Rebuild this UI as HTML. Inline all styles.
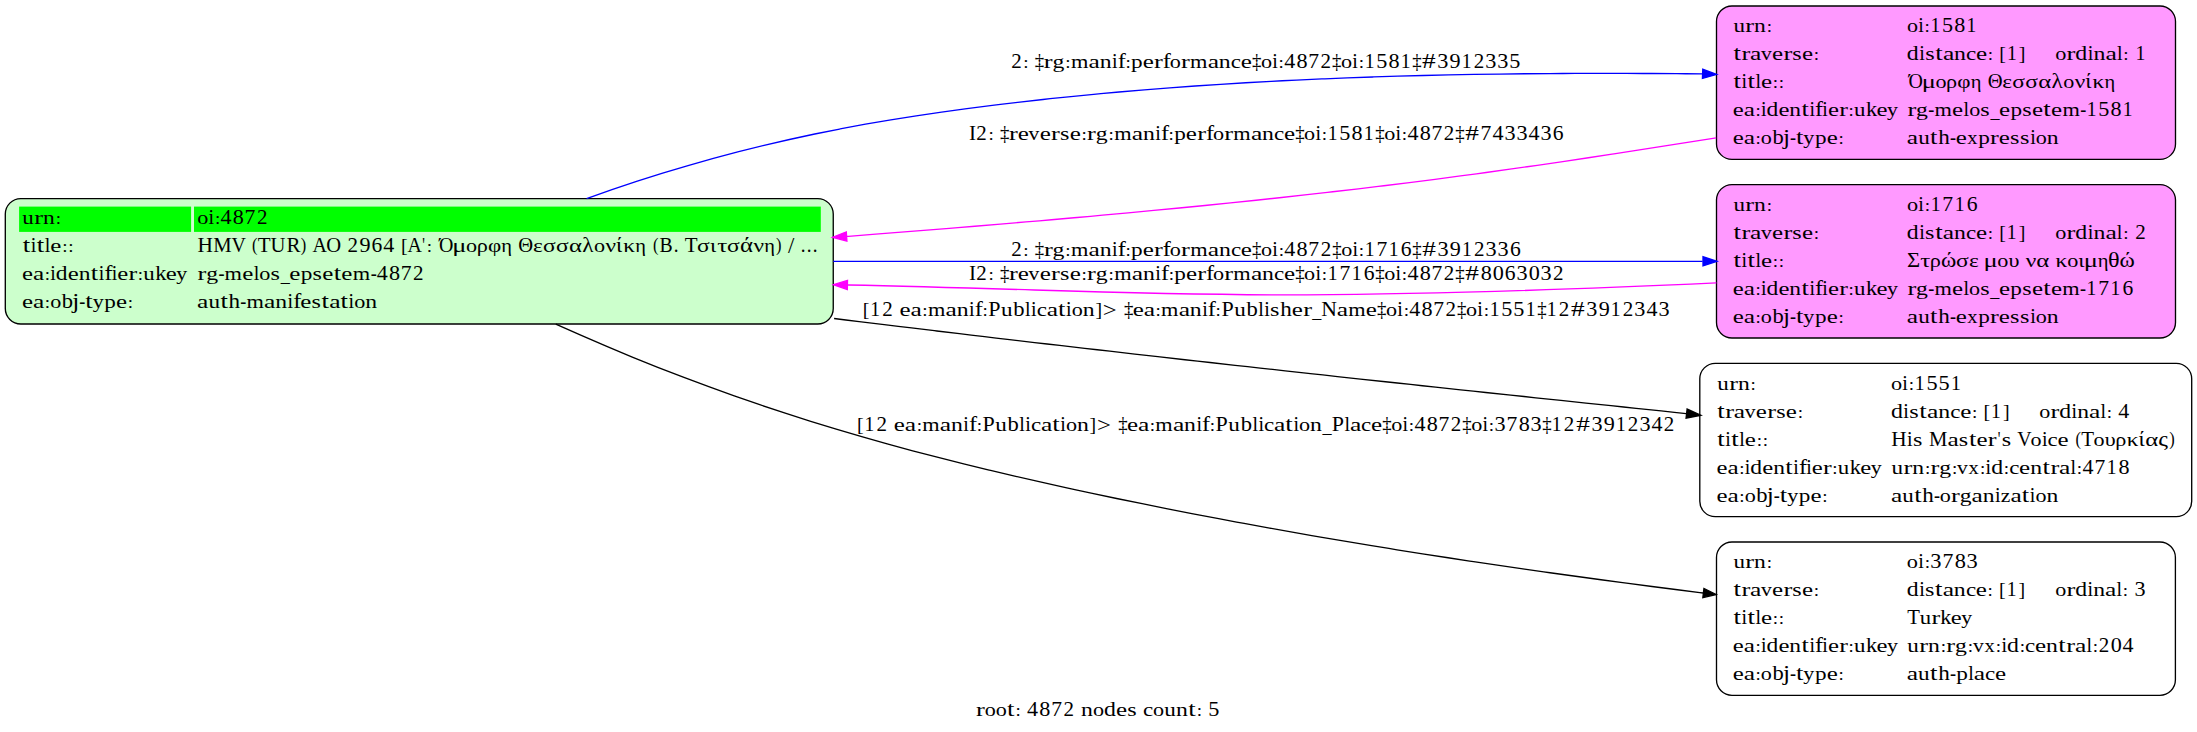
<!DOCTYPE html>
<html><head><meta charset="utf-8"><title>graph</title>
<style>html,body{margin:0;padding:0;background:#fff;}svg{display:block;}text{font-family:"Liberation Serif",serif;font-size:21.0px;fill:#000;white-space:pre;}</style>
</head><body><svg width="2197" height="732" viewBox="0 0 2197 732">
<rect width="2197" height="732" fill="#fff"/>
<rect x="5.30" y="198.60" width="827.95" height="125.40" rx="15.5" ry="15.5" fill="#ccffcc" stroke="#000" stroke-width="1.33"/>
<rect x="1716.50" y="6.00" width="459.00" height="153.40" rx="15.5" ry="15.5" fill="#ff99ff" stroke="#000" stroke-width="1.33"/>
<rect x="1716.50" y="184.60" width="459.00" height="153.40" rx="15.5" ry="15.5" fill="#ff99ff" stroke="#000" stroke-width="1.33"/>
<rect x="1699.80" y="363.33" width="491.90" height="153.34" rx="15.5" ry="15.5" fill="#ffffff" stroke="#000" stroke-width="1.33"/>
<rect x="1716.50" y="542.00" width="458.90" height="153.33" rx="15.5" ry="15.5" fill="#ffffff" stroke="#000" stroke-width="1.33"/>
<rect x="19.10" y="206.60" width="172.00" height="25.30" fill="#00ff00"/>
<rect x="194.00" y="206.60" width="626.80" height="25.30" fill="#00ff00"/>
<path d="M586.60,198.74 C595.05,195.65 603.50,192.65 611.95,189.72 C620.41,186.79 628.86,183.95 637.31,181.18 C645.76,178.41 654.21,175.73 662.66,173.12 C671.12,170.51 679.57,167.97 688.02,165.52 C696.47,163.06 704.92,160.67 713.37,158.36 C721.82,156.05 730.28,153.82 738.73,151.65 C747.18,149.49 755.63,147.39 764.08,145.36 C772.53,143.34 780.98,141.38 789.44,139.49 C797.89,137.60 806.34,135.78 814.79,134.02 C823.24,132.26 831.69,130.57 840.15,128.93 C848.60,127.30 857.05,125.73 865.50,124.22 C873.95,122.71 882.40,121.26 890.85,119.85 C899.31,118.45 907.76,117.11 916.21,115.81 C924.66,114.51 933.11,113.26 941.56,112.05 C950.02,110.85 958.47,109.69 966.92,108.57 C975.37,107.45 983.82,106.37 992.27,105.33 C1000.72,104.29 1009.18,103.28 1017.63,102.30 C1026.08,101.33 1034.53,100.39 1042.98,99.47 C1051.43,98.56 1059.88,97.67 1068.34,96.82 C1076.79,95.96 1085.24,95.13 1093.69,94.33 C1102.14,93.53 1110.59,92.76 1119.05,92.02 C1127.50,91.27 1135.95,90.56 1144.40,89.86 C1152.85,89.17 1161.30,88.51 1169.75,87.87 C1178.21,87.23 1186.66,86.61 1195.11,86.02 C1203.56,85.43 1212.01,84.87 1220.46,84.33 C1228.92,83.79 1237.37,83.27 1245.82,82.77 C1254.27,82.28 1262.72,81.81 1271.17,81.36 C1279.62,80.91 1288.08,80.48 1296.53,80.08 C1304.98,79.67 1313.43,79.29 1321.88,78.93 C1330.33,78.56 1338.78,78.22 1347.24,77.90 C1355.69,77.58 1364.14,77.27 1372.59,76.99 C1381.04,76.71 1389.49,76.44 1397.95,76.20 C1406.40,75.95 1414.85,75.72 1423.30,75.51 C1431.75,75.30 1440.20,75.11 1448.65,74.93 C1457.11,74.76 1465.56,74.60 1474.01,74.45 C1482.46,74.31 1490.91,74.18 1499.36,74.07 C1507.82,73.96 1516.27,73.86 1524.72,73.78 C1533.17,73.69 1541.62,73.62 1550.07,73.57 C1558.52,73.51 1566.98,73.47 1575.43,73.44 C1583.88,73.41 1592.33,73.40 1600.78,73.39 C1609.23,73.39 1617.68,73.39 1626.14,73.41 C1634.59,73.43 1643.04,73.46 1651.49,73.50 C1659.94,73.54 1668.39,73.59 1676.85,73.65 C1685.30,73.71 1693.75,73.78 1702.20,73.86" fill="none" stroke="#0000ff" stroke-width="1.33"/>
<polygon points="1716.70,74.38 1702.43,78.47 1702.77,69.27" fill="#0000ff" stroke="#0000ff" stroke-width="1.33"/>
<path d="M1716.20,137.90 C1707.68,139.24 1699.16,140.58 1690.64,141.92 C1682.11,143.26 1673.59,144.59 1665.07,145.92 C1656.55,147.26 1648.03,148.58 1639.51,149.90 C1630.98,151.22 1622.46,152.53 1613.94,153.84 C1605.42,155.14 1596.90,156.44 1588.38,157.73 C1579.85,159.01 1571.33,160.28 1562.81,161.55 C1554.29,162.81 1545.77,164.06 1537.25,165.29 C1528.73,166.52 1520.20,167.74 1511.68,168.94 C1503.16,170.15 1494.64,171.33 1486.12,172.50 C1477.60,173.67 1469.07,174.83 1460.55,175.96 C1452.03,177.10 1443.51,178.22 1434.99,179.33 C1426.47,180.43 1417.95,181.51 1409.42,182.58 C1400.90,183.65 1392.38,184.71 1383.86,185.74 C1375.34,186.78 1366.82,187.80 1358.29,188.81 C1349.77,189.81 1341.25,190.81 1332.73,191.78 C1324.21,192.76 1315.69,193.72 1307.16,194.67 C1298.64,195.62 1290.12,196.56 1281.60,197.48 C1273.08,198.41 1264.56,199.32 1256.04,200.22 C1247.51,201.11 1238.99,202.00 1230.47,202.88 C1221.95,203.75 1213.43,204.61 1204.91,205.47 C1196.38,206.32 1187.86,207.16 1179.34,207.99 C1170.82,208.82 1162.30,209.64 1153.78,210.45 C1145.25,211.26 1136.73,212.06 1128.21,212.85 C1119.69,213.64 1111.17,214.43 1102.65,215.20 C1094.13,215.97 1085.60,216.74 1077.08,217.50 C1068.56,218.25 1060.04,219.00 1051.52,219.74 C1043.00,220.48 1034.47,221.22 1025.95,221.95 C1017.43,222.67 1008.91,223.39 1000.39,224.11 C991.87,224.82 983.35,225.53 974.82,226.23 C966.30,226.94 957.78,227.63 949.26,228.33 C940.74,229.02 932.22,229.71 923.69,230.39 C915.17,231.07 906.65,231.75 898.13,232.43 C889.61,233.10 881.09,233.77 872.56,234.44 C864.04,235.11 855.52,235.77 847.00,236.43" fill="none" stroke="#ff00ff" stroke-width="1.33"/>
<polygon points="832.60,237.36 846.31,231.87 846.90,241.05" fill="#ff00ff" stroke="#ff00ff" stroke-width="1.33"/>
<path d="M833.30,261.35 C1100.00,261.35 1400.00,261.35 1702.60,261.35" fill="none" stroke="#0000ff" stroke-width="1.33"/>
<polygon points="1716.90,261.35 1703.00,265.95 1703.00,256.75" fill="#0000ff" stroke="#0000ff" stroke-width="1.33"/>
<path d="M1716.40,282.90 C1240.46,304.68 1160.25,291.33 847.80,285.00" fill="none" stroke="#ff00ff" stroke-width="1.33"/>
<polygon points="833.60,284.71 847.49,280.39 847.31,289.59" fill="#ff00ff" stroke="#ff00ff" stroke-width="1.33"/>
<path d="M834.10,318.52 C842.45,319.55 850.81,320.58 859.16,321.60 C867.52,322.63 875.87,323.65 884.22,324.66 C892.58,325.68 900.93,326.69 909.29,327.69 C917.64,328.70 925.99,329.71 934.35,330.71 C942.70,331.71 951.05,332.70 959.41,333.70 C967.76,334.69 976.12,335.68 984.47,336.66 C992.82,337.65 1001.18,338.63 1009.53,339.61 C1017.89,340.59 1026.24,341.57 1034.59,342.54 C1042.95,343.51 1051.30,344.48 1059.66,345.45 C1068.01,346.41 1076.36,347.38 1084.72,348.34 C1093.07,349.30 1101.43,350.25 1109.78,351.21 C1118.13,352.16 1126.49,353.11 1134.84,354.06 C1143.20,355.01 1151.55,355.95 1159.90,356.90 C1168.26,357.84 1176.61,358.78 1184.96,359.72 C1193.32,360.65 1201.67,361.59 1210.03,362.52 C1218.38,363.45 1226.73,364.38 1235.09,365.31 C1243.44,366.23 1251.80,367.16 1260.15,368.08 C1268.50,369.00 1276.86,369.92 1285.21,370.84 C1293.57,371.76 1301.92,372.67 1310.27,373.59 C1318.63,374.50 1326.98,375.41 1335.34,376.32 C1343.69,377.23 1352.04,378.13 1360.40,379.04 C1368.75,379.94 1377.10,380.85 1385.46,381.75 C1393.81,382.65 1402.17,383.55 1410.52,384.44 C1418.87,385.34 1427.23,386.24 1435.58,387.13 C1443.94,388.03 1452.29,388.92 1460.64,389.81 C1469.00,390.70 1477.35,391.59 1485.71,392.48 C1494.06,393.36 1502.41,394.25 1510.77,395.14 C1519.12,396.02 1527.48,396.90 1535.83,397.79 C1544.18,398.67 1552.54,399.55 1560.89,400.43 C1569.25,401.31 1577.60,402.19 1585.95,403.07 C1594.31,403.94 1602.66,404.82 1611.01,405.70 C1619.37,406.57 1627.72,407.45 1636.08,408.32 C1644.43,409.20 1652.78,410.07 1661.14,410.94 C1669.49,411.81 1677.85,412.68 1686.20,413.56" fill="none" stroke="#000000" stroke-width="1.33"/>
<polygon points="1700.80,415.23 1686.07,418.17 1687.12,409.03" fill="#000000" stroke="#000000" stroke-width="1.33"/>
<path d="M555.80,324.03 C564.30,327.90 572.80,331.71 581.29,335.45 C589.79,339.19 598.29,342.87 606.79,346.48 C615.28,350.08 623.78,353.63 632.28,357.11 C640.78,360.58 649.28,364.00 657.77,367.35 C666.27,370.70 674.77,373.99 683.27,377.22 C691.76,380.45 700.26,383.62 708.76,386.73 C717.26,389.83 725.76,392.88 734.25,395.87 C742.75,398.87 751.25,401.80 759.75,404.68 C768.24,407.56 776.74,410.38 785.24,413.14 C793.74,415.91 802.24,418.62 810.73,421.28 C819.23,423.94 827.73,426.55 836.23,429.10 C844.72,431.66 853.22,434.16 861.72,436.62 C870.22,439.07 878.72,441.48 887.21,443.84 C895.71,446.20 904.21,448.51 912.71,450.78 C921.20,453.05 929.70,455.28 938.20,457.46 C946.70,459.65 955.20,461.80 963.69,463.90 C972.19,466.01 980.69,468.09 989.19,470.12 C997.68,472.16 1006.18,474.16 1014.68,476.13 C1023.18,478.11 1031.68,480.05 1040.17,481.96 C1048.67,483.87 1057.17,485.75 1065.67,487.61 C1074.16,489.47 1082.66,491.30 1091.16,493.11 C1099.66,494.92 1108.16,496.71 1116.65,498.48 C1125.15,500.24 1133.65,501.99 1142.15,503.72 C1150.64,505.44 1159.14,507.15 1167.64,508.83 C1176.14,510.51 1184.64,512.18 1193.13,513.82 C1201.63,515.47 1210.13,517.09 1218.63,518.70 C1227.12,520.31 1235.62,521.89 1244.12,523.46 C1252.62,525.03 1261.12,526.58 1269.61,528.11 C1278.11,529.64 1286.61,531.16 1295.11,532.65 C1303.60,534.15 1312.10,535.63 1320.60,537.09 C1329.10,538.55 1337.60,539.99 1346.09,541.42 C1354.59,542.85 1363.09,544.26 1371.59,545.65 C1380.08,547.05 1388.58,548.43 1397.08,549.79 C1405.58,551.15 1414.08,552.50 1422.57,553.83 C1431.07,555.16 1439.57,556.48 1448.07,557.78 C1456.56,559.08 1465.06,560.37 1473.56,561.65 C1482.06,562.92 1490.56,564.18 1499.05,565.42 C1507.55,566.67 1516.05,567.90 1524.55,569.12 C1533.04,570.34 1541.54,571.55 1550.04,572.74 C1558.54,573.93 1567.04,575.11 1575.53,576.28 C1584.03,577.45 1592.53,578.61 1601.03,579.75 C1609.52,580.90 1618.02,582.03 1626.52,583.15 C1635.02,584.28 1643.52,585.39 1652.01,586.49 C1660.51,587.59 1669.01,588.68 1677.51,589.76 C1686.00,590.84 1694.50,591.91 1703.00,592.97" fill="none" stroke="#000000" stroke-width="1.33"/>
<polygon points="1716.10,594.53 1702.85,597.58 1703.94,588.45" fill="#000000" stroke="#000000" stroke-width="1.33"/>
<text transform="translate(22.33 224.00) scale(1.0970 0.9300)">u</text>
<text transform="translate(34.25 224.00) scale(1.2559 0.9300)">r</text>
<text transform="translate(42.98 224.00) scale(1.1252 0.9300)">n</text>
<text transform="translate(55.65 224.04) scale(0.9066 0.8293)">:</text>
<text transform="translate(22.68 252.00) scale(1.2727 1)">t</text>
<text transform="translate(30.76 252.00) scale(0.9524 1)">i</text>
<text transform="translate(36.68 252.00) scale(1.2727 1)">t</text>
<text transform="translate(44.76 252.00) scale(0.9524 0.9600)">l</text>
<text transform="translate(50.36 252.00) scale(1.1875 0.9300)">e</text>
<text transform="translate(62.14 252.04) scale(0.9091 0.8293)">:</text>
<text transform="translate(68.14 252.04) scale(0.9091 0.8293)">:</text>
<text transform="translate(22.12 280.00) scale(1.1764 0.9300)">e</text>
<text transform="translate(33.00 280.00) scale(1.2008 0.9300)">a</text>
<text transform="translate(44.68 280.04) scale(0.9006 0.8293)">:</text>
<text transform="translate(50.25 280.00) scale(0.9435 1)">i</text>
<text transform="translate(55.84 280.00) scale(1.1210 0.9600)">d</text>
<text transform="translate(67.69 280.00) scale(1.1764 0.9300)">e</text>
<text transform="translate(78.66 280.00) scale(1.1177 0.9300)">n</text>
<text transform="translate(90.79 280.00) scale(1.2608 1)">t</text>
<text transform="translate(98.80 280.00) scale(0.9435 1)">i</text>
<text transform="translate(104.40 280.00) scale(1.1431 0.9600)">f</text>
<text transform="translate(111.67 280.00) scale(0.9435 1)">i</text>
<text transform="translate(117.22 280.00) scale(1.1764 0.9300)">e</text>
<text transform="translate(128.44 280.00) scale(1.2475 0.9300)">r</text>
<text transform="translate(137.80 280.04) scale(0.9006 0.8293)">:</text>
<text transform="translate(143.34 280.00) scale(1.0897 0.9300)">u</text>
<text transform="translate(155.23 280.00) scale(1.0631 0.9600)">k</text>
<text transform="translate(165.76 280.00) scale(1.1764 0.9300)">e</text>
<text transform="translate(176.29 280.00) scale(1.0390 0.9300)">y</text>
<text transform="translate(22.11 308.00) scale(1.1859 0.9300)">e</text>
<text transform="translate(33.08 308.00) scale(1.2104 0.9300)">a</text>
<text transform="translate(44.86 308.04) scale(0.9078 0.8293)">:</text>
<text transform="translate(50.17 308.00) scale(1.0541 0.9300)">o</text>
<text transform="translate(61.70 308.00) scale(1.0754 0.9600)">b</text>
<text transform="translate(72.34 308.00) scale(1.2089 1)">j</text>
<text transform="translate(79.27 308.00) scale(0.8624 1)">-</text>
<text transform="translate(85.35 308.00) scale(1.2710 1)">t</text>
<text transform="translate(92.64 308.00) scale(1.0473 0.9300)">y</text>
<text transform="translate(104.36 308.00) scale(1.1037 0.9300)">p</text>
<text transform="translate(115.98 308.00) scale(1.1859 0.9300)">e</text>
<text transform="translate(127.74 308.04) scale(0.9078 0.8293)">:</text>
<text transform="translate(197.21 224.00) scale(1.0579 0.9300)">o</text>
<text transform="translate(208.54 224.00) scale(0.9545 1)">i</text>
<text transform="translate(214.92 224.04) scale(0.9111 0.8293)">:</text>
<text transform="translate(220.54 224.00) scale(1.0523 1)">4</text>
<text transform="translate(232.78 224.00) scale(1.0579 1)">8</text>
<text transform="translate(244.57 224.00) scale(1.0308 1)">7</text>
<text transform="translate(256.88 224.00) scale(1.0022 1)">2</text>
<text transform="translate(197.49 252.00) scale(1.0179 1)">H</text>
<text transform="translate(213.26 252.00) scale(0.9860 1)">M</text>
<text transform="translate(231.52 252.00) scale(0.9492 1)">V</text>
<text transform="translate(251.92 250.91) scale(0.7827 0.9079)">(</text>
<text transform="translate(257.75 252.00) scale(1.0001 1)">T</text>
<text transform="translate(270.51 252.00) scale(0.9828 1)">U</text>
<text transform="translate(286.51 252.00) scale(1.0001 1)">R</text>
<text transform="translate(300.87 250.91) scale(0.7827 0.9079)">)</text>
<text transform="translate(312.52 252.00) scale(0.9492 1)">A</text>
<text transform="translate(326.27 252.00) scale(0.9816 1)">O</text>
<text transform="translate(347.51 252.00) scale(1.0001 1)">2</text>
<text transform="translate(359.49 252.00) scale(1.0541 1)">9</text>
<text transform="translate(371.49 252.00) scale(1.0271 1)">6</text>
<text transform="translate(383.25 252.00) scale(1.0501 1)">4</text>
<text transform="translate(401.10 251.67) scale(0.9474 0.9437)">[</text>
<text transform="translate(407.53 252.00) scale(0.9492 1)">A</text>
<text transform="translate(422.21 252.00) scale(0.7000 1)">&#x27;</text>
<text transform="translate(426.65 252.04) scale(0.9092 0.8293)">:</text>
<text transform="translate(438.98 252.00) scale(0.9501 1)">Ό</text>
<text transform="translate(452.32 252.00) scale(1.2572 0.9300)">μ</text>
<text transform="translate(465.98 252.00) scale(1.0556 0.9300)">ο</text>
<text transform="translate(476.70 252.00) scale(1.0589 0.9300)">ρ</text>
<text transform="translate(487.95 252.00) scale(1.0953 0.9300)">φ</text>
<text transform="translate(501.28 252.00) scale(0.9744 0.9300)">η</text>
<text transform="translate(518.29 252.00) scale(0.9816 1)">Θ</text>
<text transform="translate(532.95 252.00) scale(1.1001 0.9300)">ε</text>
<text transform="translate(542.94 252.00) scale(1.1220 0.9300)">σ</text>
<text transform="translate(555.94 252.00) scale(1.1220 0.9300)">σ</text>
<text transform="translate(568.90 252.00) scale(1.1796 0.9300)">α</text>
<text transform="translate(582.23 252.00) scale(1.1027 0.9600)">λ</text>
<text transform="translate(593.99 252.00) scale(1.0556 0.9300)">ο</text>
<text transform="translate(605.53 252.00) scale(1.1112 0.9300)">ν</text>
<text transform="translate(615.99 252.00) scale(1.0953 1)">ί</text>
<text transform="translate(623.26 252.00) scale(1.1001 0.9300)">κ</text>
<text transform="translate(635.29 252.00) scale(0.9744 0.9300)">η</text>
<text transform="translate(652.95 250.91) scale(0.7827 0.9079)">(</text>
<text transform="translate(659.57 252.00) scale(0.9401 1)">Β</text>
<text transform="translate(673.65 252.00) scale(0.9092 1)">.</text>
<text transform="translate(684.79 252.00) scale(1.0001 1)">Τ</text>
<text transform="translate(696.95 252.00) scale(1.1220 0.9300)">σ</text>
<text transform="translate(709.99 252.00) scale(1.0953 0.9300)">ι</text>
<text transform="translate(717.19 252.00) scale(1.2001 0.9300)">τ</text>
<text transform="translate(726.95 252.00) scale(1.1220 0.9300)">σ</text>
<text transform="translate(739.91 252.00) scale(1.1796 1)">ά</text>
<text transform="translate(753.54 252.00) scale(1.1112 0.9300)">ν</text>
<text transform="translate(764.30 252.00) scale(0.9744 0.9300)">η</text>
<text transform="translate(775.91 250.91) scale(0.7827 0.9079)">)</text>
<text transform="translate(788.05 253.48) scale(1.0870 1.0877)">/</text>
<text transform="translate(800.66 252.00) scale(0.9092 1)">.</text>
<text transform="translate(806.66 252.00) scale(0.9092 1)">.</text>
<text transform="translate(812.66 252.00) scale(0.9092 1)">.</text>
<text transform="translate(197.48 280.00) scale(1.2609 0.9300)">r</text>
<text transform="translate(206.21 280.00) scale(1.1331 0.9300)">g</text>
<text transform="translate(218.43 280.00) scale(0.8648 1)">-</text>
<text transform="translate(224.57 280.00) scale(1.0649 0.9300)">m</text>
<text transform="translate(242.22 280.00) scale(1.1891 0.9300)">e</text>
<text transform="translate(253.64 280.00) scale(0.9537 0.9600)">l</text>
<text transform="translate(259.34 280.00) scale(1.0570 0.9300)">o</text>
<text transform="translate(270.54 280.00) scale(1.1497 0.9300)">s</text>
<text transform="translate(280.63 282.30) scale(0.8648 0.8000)">_</text>
<text transform="translate(289.28 280.00) scale(1.1891 0.9300)">e</text>
<text transform="translate(300.66 280.00) scale(1.1067 0.9300)">p</text>
<text transform="translate(312.59 280.00) scale(1.1497 0.9300)">s</text>
<text transform="translate(322.33 280.00) scale(1.1891 0.9300)">e</text>
<text transform="translate(333.66 280.00) scale(1.2744 1)">t</text>
<text transform="translate(341.35 280.00) scale(1.1891 0.9300)">e</text>
<text transform="translate(352.74 280.00) scale(1.0649 0.9300)">m</text>
<text transform="translate(370.63 280.00) scale(0.8648 1)">-</text>
<text transform="translate(376.78 280.00) scale(1.0514 1)">4</text>
<text transform="translate(389.01 280.00) scale(1.0570 1)">8</text>
<text transform="translate(400.79 280.00) scale(1.0299 1)">7</text>
<text transform="translate(413.09 280.00) scale(1.0013 1)">2</text>
<text transform="translate(197.09 308.00) scale(1.2125 0.9300)">a</text>
<text transform="translate(208.48 308.00) scale(1.1003 0.9300)">u</text>
<text transform="translate(220.44 308.00) scale(1.2731 1)">t</text>
<text transform="translate(228.48 308.00) scale(1.1003 0.9600)">h</text>
<text transform="translate(240.36 308.00) scale(0.8639 1)">-</text>
<text transform="translate(246.50 308.00) scale(1.0638 0.9300)">m</text>
<text transform="translate(264.11 308.00) scale(1.2125 0.9300)">a</text>
<text transform="translate(275.21 308.00) scale(1.1285 0.9300)">n</text>
<text transform="translate(287.54 308.00) scale(0.9526 1)">i</text>
<text transform="translate(293.20 308.00) scale(1.1542 0.9600)">f</text>
<text transform="translate(300.14 308.00) scale(1.1878 0.9300)">e</text>
<text transform="translate(311.42 308.00) scale(1.1485 0.9300)">s</text>
<text transform="translate(321.47 308.00) scale(1.2731 1)">t</text>
<text transform="translate(329.13 308.00) scale(1.2125 0.9300)">a</text>
<text transform="translate(340.47 308.00) scale(1.2731 1)">t</text>
<text transform="translate(348.55 308.00) scale(0.9526 1)">i</text>
<text transform="translate(354.25 308.00) scale(1.0559 0.9300)">o</text>
<text transform="translate(365.23 308.00) scale(1.1285 0.9300)">n</text>
<text transform="translate(1733.43 32.00) scale(1.0970 0.9300)">u</text>
<text transform="translate(1745.35 32.00) scale(1.2559 0.9300)">r</text>
<text transform="translate(1754.08 32.00) scale(1.1252 0.9300)">n</text>
<text transform="translate(1766.75 32.04) scale(0.9066 0.8293)">:</text>
<text transform="translate(1733.38 60.00) scale(1.2727 1)">t</text>
<text transform="translate(1741.39 60.00) scale(1.2593 0.9300)">r</text>
<text transform="translate(1750.04 60.00) scale(1.2121 0.9300)">a</text>
<text transform="translate(1760.95 60.00) scale(1.0238 0.9300)">v</text>
<text transform="translate(1772.06 60.00) scale(1.1875 0.9300)">e</text>
<text transform="translate(1783.39 60.00) scale(1.2593 0.9300)">r</text>
<text transform="translate(1792.34 60.00) scale(1.1481 0.9300)">s</text>
<text transform="translate(1802.06 60.00) scale(1.1875 0.9300)">e</text>
<text transform="translate(1813.84 60.04) scale(0.9091 0.8293)">:</text>
<text transform="translate(1733.38 88.00) scale(1.2727 1)">t</text>
<text transform="translate(1741.46 88.00) scale(0.9524 1)">i</text>
<text transform="translate(1747.38 88.00) scale(1.2727 1)">t</text>
<text transform="translate(1755.46 88.00) scale(0.9524 0.9600)">l</text>
<text transform="translate(1761.06 88.00) scale(1.1875 0.9300)">e</text>
<text transform="translate(1772.84 88.04) scale(0.9091 0.8293)">:</text>
<text transform="translate(1778.84 88.04) scale(0.9091 0.8293)">:</text>
<text transform="translate(1732.82 116.00) scale(1.1764 0.9300)">e</text>
<text transform="translate(1743.70 116.00) scale(1.2008 0.9300)">a</text>
<text transform="translate(1755.38 116.04) scale(0.9006 0.8293)">:</text>
<text transform="translate(1760.95 116.00) scale(0.9435 1)">i</text>
<text transform="translate(1766.54 116.00) scale(1.1210 0.9600)">d</text>
<text transform="translate(1778.39 116.00) scale(1.1764 0.9300)">e</text>
<text transform="translate(1789.36 116.00) scale(1.1177 0.9300)">n</text>
<text transform="translate(1801.49 116.00) scale(1.2608 1)">t</text>
<text transform="translate(1809.50 116.00) scale(0.9435 1)">i</text>
<text transform="translate(1815.10 116.00) scale(1.1431 0.9600)">f</text>
<text transform="translate(1822.37 116.00) scale(0.9435 1)">i</text>
<text transform="translate(1827.92 116.00) scale(1.1764 0.9300)">e</text>
<text transform="translate(1839.14 116.00) scale(1.2475 0.9300)">r</text>
<text transform="translate(1848.50 116.04) scale(0.9006 0.8293)">:</text>
<text transform="translate(1854.04 116.00) scale(1.0897 0.9300)">u</text>
<text transform="translate(1865.93 116.00) scale(1.0631 0.9600)">k</text>
<text transform="translate(1876.46 116.00) scale(1.1764 0.9300)">e</text>
<text transform="translate(1886.99 116.00) scale(1.0390 0.9300)">y</text>
<text transform="translate(1732.81 144.00) scale(1.1859 0.9300)">e</text>
<text transform="translate(1743.78 144.00) scale(1.2104 0.9300)">a</text>
<text transform="translate(1755.56 144.04) scale(0.9078 0.8293)">:</text>
<text transform="translate(1760.87 144.00) scale(1.0541 0.9300)">o</text>
<text transform="translate(1772.40 144.00) scale(1.0754 0.9600)">b</text>
<text transform="translate(1783.04 144.00) scale(1.2089 1)">j</text>
<text transform="translate(1789.97 144.00) scale(0.8624 1)">-</text>
<text transform="translate(1796.05 144.00) scale(1.2710 1)">t</text>
<text transform="translate(1803.34 144.00) scale(1.0473 0.9300)">y</text>
<text transform="translate(1815.06 144.00) scale(1.1037 0.9300)">p</text>
<text transform="translate(1826.68 144.00) scale(1.1859 0.9300)">e</text>
<text transform="translate(1838.44 144.04) scale(0.9078 0.8293)">:</text>
<text transform="translate(1906.91 32.00) scale(1.0524 0.9300)">o</text>
<text transform="translate(1918.18 32.00) scale(0.9496 1)">i</text>
<text transform="translate(1924.54 32.04) scale(0.9064 0.8293)">:</text>
<text transform="translate(1930.50 32.00) scale(0.9306 1)">1</text>
<text transform="translate(1942.02 32.00) scale(1.0557 1)">5</text>
<text transform="translate(1954.27 32.00) scale(1.0524 1)">8</text>
<text transform="translate(1966.39 32.00) scale(0.9306 1)">1</text>
<text transform="translate(1906.85 60.00) scale(1.1355 0.9600)">d</text>
<text transform="translate(1919.25 60.00) scale(0.9557 1)">i</text>
<text transform="translate(1925.15 60.00) scale(1.1521 0.9300)">s</text>
<text transform="translate(1935.23 60.00) scale(1.2771 1)">t</text>
<text transform="translate(1942.91 60.00) scale(1.2163 0.9300)">a</text>
<text transform="translate(1954.05 60.00) scale(1.1321 0.9300)">n</text>
<text transform="translate(1966.08 60.00) scale(1.0975 0.9300)">c</text>
<text transform="translate(1976.04 60.00) scale(1.1916 0.9300)">e</text>
<text transform="translate(1987.86 60.04) scale(0.9122 0.8293)">:</text>
<text transform="translate(1999.34 59.67) scale(0.9506 0.9437)">[</text>
<text transform="translate(2006.91 60.00) scale(0.9366 1)">1</text>
<text transform="translate(2018.87 59.67) scale(0.9506 0.9437)">]</text>
<text transform="translate(2055.20 60.00) scale(1.0628 0.9300)">o</text>
<text transform="translate(2066.51 60.00) scale(1.2679 0.9300)">r</text>
<text transform="translate(2075.28 60.00) scale(1.1393 0.9600)">d</text>
<text transform="translate(2087.73 60.00) scale(0.9589 1)">i</text>
<text transform="translate(2093.44 60.00) scale(1.1359 0.9300)">n</text>
<text transform="translate(2105.43 60.00) scale(1.2204 0.9300)">a</text>
<text transform="translate(2116.93 60.00) scale(0.9589 0.9600)">l</text>
<text transform="translate(2123.35 60.04) scale(0.9153 0.8293)">:</text>
<text transform="translate(2135.41 60.00) scale(0.9397 1)">1</text>
<text transform="translate(1908.41 88.00) scale(0.9493 1)">Ό</text>
<text transform="translate(1921.74 88.00) scale(1.2562 0.9300)">μ</text>
<text transform="translate(1935.39 88.00) scale(1.0548 0.9300)">ο</text>
<text transform="translate(1946.10 88.00) scale(1.0581 0.9300)">ρ</text>
<text transform="translate(1957.34 88.00) scale(1.0944 0.9300)">φ</text>
<text transform="translate(1970.66 88.00) scale(0.9737 0.9300)">η</text>
<text transform="translate(1987.66 88.00) scale(0.9808 1)">Θ</text>
<text transform="translate(2002.31 88.00) scale(1.0992 0.9300)">ε</text>
<text transform="translate(2012.28 88.00) scale(1.1211 0.9300)">σ</text>
<text transform="translate(2025.27 88.00) scale(1.1211 0.9300)">σ</text>
<text transform="translate(2038.22 88.00) scale(1.1786 0.9300)">α</text>
<text transform="translate(2051.54 88.00) scale(1.1018 0.9600)">λ</text>
<text transform="translate(2063.30 88.00) scale(1.0548 0.9300)">ο</text>
<text transform="translate(2074.83 88.00) scale(1.1103 0.9300)">ν</text>
<text transform="translate(2085.27 88.00) scale(1.0944 1)">ί</text>
<text transform="translate(2092.54 88.00) scale(1.0992 0.9300)">κ</text>
<text transform="translate(2104.56 88.00) scale(0.9737 0.9300)">η</text>
<text transform="translate(1907.39 116.00) scale(1.2590 0.9300)">r</text>
<text transform="translate(1916.10 116.00) scale(1.1313 0.9300)">g</text>
<text transform="translate(1928.30 116.00) scale(0.8634 1)">-</text>
<text transform="translate(1934.43 116.00) scale(1.0633 0.9300)">m</text>
<text transform="translate(1952.05 116.00) scale(1.1872 0.9300)">e</text>
<text transform="translate(1963.45 116.00) scale(0.9522 0.9600)">l</text>
<text transform="translate(1969.14 116.00) scale(1.0553 0.9300)">o</text>
<text transform="translate(1980.32 116.00) scale(1.1479 0.9300)">s</text>
<text transform="translate(1990.40 118.30) scale(0.8634 0.8000)">_</text>
<text transform="translate(1999.04 116.00) scale(1.1872 0.9300)">e</text>
<text transform="translate(2010.40 116.00) scale(1.1050 0.9300)">p</text>
<text transform="translate(2022.31 116.00) scale(1.1479 0.9300)">s</text>
<text transform="translate(2032.03 116.00) scale(1.1872 0.9300)">e</text>
<text transform="translate(2043.35 116.00) scale(1.2724 1)">t</text>
<text transform="translate(2051.03 116.00) scale(1.1872 0.9300)">e</text>
<text transform="translate(2062.40 116.00) scale(1.0633 0.9300)">m</text>
<text transform="translate(2080.26 116.00) scale(0.8634 1)">-</text>
<text transform="translate(2086.78 116.00) scale(0.9331 1)">1</text>
<text transform="translate(2098.33 116.00) scale(1.0586 1)">5</text>
<text transform="translate(2110.61 116.00) scale(1.0553 1)">8</text>
<text transform="translate(2122.77 116.00) scale(0.9331 1)">1</text>
<text transform="translate(1906.79 144.00) scale(1.2117 0.9300)">a</text>
<text transform="translate(1918.17 144.00) scale(1.0996 0.9300)">u</text>
<text transform="translate(1930.12 144.00) scale(1.2723 1)">t</text>
<text transform="translate(1938.16 144.00) scale(1.0996 0.9600)">h</text>
<text transform="translate(1950.04 144.00) scale(0.8633 1)">-</text>
<text transform="translate(1955.79 144.00) scale(1.1871 0.9300)">e</text>
<text transform="translate(1967.18 144.00) scale(0.9753 0.9300)">x</text>
<text transform="translate(1978.15 144.00) scale(1.1049 0.9300)">p</text>
<text transform="translate(1990.11 144.00) scale(1.2588 0.9300)">r</text>
<text transform="translate(1998.78 144.00) scale(1.1871 0.9300)">e</text>
<text transform="translate(2010.05 144.00) scale(1.1478 0.9300)">s</text>
<text transform="translate(2020.05 144.00) scale(1.1478 0.9300)">s</text>
<text transform="translate(2030.17 144.00) scale(0.9521 1)">i</text>
<text transform="translate(2035.87 144.00) scale(1.0552 0.9300)">o</text>
<text transform="translate(2046.84 144.00) scale(1.1278 0.9300)">n</text>
<text transform="translate(1733.43 211.00) scale(1.0970 0.9300)">u</text>
<text transform="translate(1745.35 211.00) scale(1.2559 0.9300)">r</text>
<text transform="translate(1754.08 211.00) scale(1.1252 0.9300)">n</text>
<text transform="translate(1766.75 211.04) scale(0.9066 0.8293)">:</text>
<text transform="translate(1733.38 239.00) scale(1.2727 1)">t</text>
<text transform="translate(1741.39 239.00) scale(1.2593 0.9300)">r</text>
<text transform="translate(1750.04 239.00) scale(1.2121 0.9300)">a</text>
<text transform="translate(1760.95 239.00) scale(1.0238 0.9300)">v</text>
<text transform="translate(1772.06 239.00) scale(1.1875 0.9300)">e</text>
<text transform="translate(1783.39 239.00) scale(1.2593 0.9300)">r</text>
<text transform="translate(1792.34 239.00) scale(1.1481 0.9300)">s</text>
<text transform="translate(1802.06 239.00) scale(1.1875 0.9300)">e</text>
<text transform="translate(1813.84 239.04) scale(0.9091 0.8293)">:</text>
<text transform="translate(1733.38 267.00) scale(1.2727 1)">t</text>
<text transform="translate(1741.46 267.00) scale(0.9524 1)">i</text>
<text transform="translate(1747.38 267.00) scale(1.2727 1)">t</text>
<text transform="translate(1755.46 267.00) scale(0.9524 0.9600)">l</text>
<text transform="translate(1761.06 267.00) scale(1.1875 0.9300)">e</text>
<text transform="translate(1772.84 267.04) scale(0.9091 0.8293)">:</text>
<text transform="translate(1778.84 267.04) scale(0.9091 0.8293)">:</text>
<text transform="translate(1732.82 295.00) scale(1.1764 0.9300)">e</text>
<text transform="translate(1743.70 295.00) scale(1.2008 0.9300)">a</text>
<text transform="translate(1755.38 295.04) scale(0.9006 0.8293)">:</text>
<text transform="translate(1760.95 295.00) scale(0.9435 1)">i</text>
<text transform="translate(1766.54 295.00) scale(1.1210 0.9600)">d</text>
<text transform="translate(1778.39 295.00) scale(1.1764 0.9300)">e</text>
<text transform="translate(1789.36 295.00) scale(1.1177 0.9300)">n</text>
<text transform="translate(1801.49 295.00) scale(1.2608 1)">t</text>
<text transform="translate(1809.50 295.00) scale(0.9435 1)">i</text>
<text transform="translate(1815.10 295.00) scale(1.1431 0.9600)">f</text>
<text transform="translate(1822.37 295.00) scale(0.9435 1)">i</text>
<text transform="translate(1827.92 295.00) scale(1.1764 0.9300)">e</text>
<text transform="translate(1839.14 295.00) scale(1.2475 0.9300)">r</text>
<text transform="translate(1848.50 295.04) scale(0.9006 0.8293)">:</text>
<text transform="translate(1854.04 295.00) scale(1.0897 0.9300)">u</text>
<text transform="translate(1865.93 295.00) scale(1.0631 0.9600)">k</text>
<text transform="translate(1876.46 295.00) scale(1.1764 0.9300)">e</text>
<text transform="translate(1886.99 295.00) scale(1.0390 0.9300)">y</text>
<text transform="translate(1732.81 323.00) scale(1.1859 0.9300)">e</text>
<text transform="translate(1743.78 323.00) scale(1.2104 0.9300)">a</text>
<text transform="translate(1755.56 323.04) scale(0.9078 0.8293)">:</text>
<text transform="translate(1760.87 323.00) scale(1.0541 0.9300)">o</text>
<text transform="translate(1772.40 323.00) scale(1.0754 0.9600)">b</text>
<text transform="translate(1783.04 323.00) scale(1.2089 1)">j</text>
<text transform="translate(1789.97 323.00) scale(0.8624 1)">-</text>
<text transform="translate(1796.05 323.00) scale(1.2710 1)">t</text>
<text transform="translate(1803.34 323.00) scale(1.0473 0.9300)">y</text>
<text transform="translate(1815.06 323.00) scale(1.1037 0.9300)">p</text>
<text transform="translate(1826.68 323.00) scale(1.1859 0.9300)">e</text>
<text transform="translate(1838.44 323.04) scale(0.9078 0.8293)">:</text>
<text transform="translate(1906.90 211.00) scale(1.0601 0.9300)">o</text>
<text transform="translate(1918.26 211.00) scale(0.9565 1)">i</text>
<text transform="translate(1924.66 211.04) scale(0.9130 0.8293)">:</text>
<text transform="translate(1930.67 211.00) scale(0.9374 1)">1</text>
<text transform="translate(1942.31 211.00) scale(1.0330 1)">7</text>
<text transform="translate(1954.77 211.00) scale(0.9374 1)">1</text>
<text transform="translate(1966.69 211.00) scale(1.0315 1)">6</text>
<text transform="translate(1906.85 239.00) scale(1.1335 0.9600)">d</text>
<text transform="translate(1919.23 239.00) scale(0.9540 1)">i</text>
<text transform="translate(1925.12 239.00) scale(1.1501 0.9300)">s</text>
<text transform="translate(1935.18 239.00) scale(1.2749 1)">t</text>
<text transform="translate(1942.85 239.00) scale(1.2142 0.9300)">a</text>
<text transform="translate(1953.97 239.00) scale(1.1302 0.9300)">n</text>
<text transform="translate(1965.98 239.00) scale(1.0956 0.9300)">c</text>
<text transform="translate(1975.93 239.00) scale(1.1895 0.9300)">e</text>
<text transform="translate(1987.72 239.04) scale(0.9107 0.8293)">:</text>
<text transform="translate(1999.19 238.67) scale(0.9490 0.9437)">[</text>
<text transform="translate(2006.74 239.00) scale(0.9349 1)">1</text>
<text transform="translate(2018.68 238.67) scale(0.9490 0.9437)">]</text>
<text transform="translate(2055.31 239.00) scale(1.0597 0.9300)">o</text>
<text transform="translate(2066.58 239.00) scale(1.2643 0.9300)">r</text>
<text transform="translate(2075.33 239.00) scale(1.1361 0.9600)">d</text>
<text transform="translate(2087.74 239.00) scale(0.9562 1)">i</text>
<text transform="translate(2093.43 239.00) scale(1.1327 0.9300)">n</text>
<text transform="translate(2105.39 239.00) scale(1.2169 0.9300)">a</text>
<text transform="translate(2116.85 239.00) scale(0.9562 0.9600)">l</text>
<text transform="translate(2123.25 239.04) scale(0.9127 0.8293)">:</text>
<text transform="translate(2135.16 239.00) scale(1.0040 1)">2</text>
<text transform="translate(1906.89 267.00) scale(1.0743 1)">Σ</text>
<text transform="translate(1920.13 267.00) scale(1.2032 0.9300)">τ</text>
<text transform="translate(1929.68 267.00) scale(1.0616 0.9300)">ρ</text>
<text transform="translate(1940.96 267.00) scale(1.1050 1)">ώ</text>
<text transform="translate(1955.99 267.00) scale(1.1249 0.9300)">σ</text>
<text transform="translate(1969.04 267.00) scale(1.1029 0.9300)">ε</text>
<text transform="translate(1983.45 267.00) scale(1.2605 0.9300)">μ</text>
<text transform="translate(1997.15 267.00) scale(1.0584 0.9300)">ο</text>
<text transform="translate(2008.45 267.00) scale(1.0554 0.9300)">υ</text>
<text transform="translate(2025.76 267.00) scale(1.1141 0.9300)">ν</text>
<text transform="translate(2036.16 267.00) scale(1.1826 0.9300)">α</text>
<text transform="translate(2055.57 267.00) scale(1.1029 0.9300)">κ</text>
<text transform="translate(2067.33 267.00) scale(1.0584 0.9300)">ο</text>
<text transform="translate(2078.36 267.00) scale(1.0982 0.9300)">ι</text>
<text transform="translate(2083.72 267.00) scale(1.2605 0.9300)">μ</text>
<text transform="translate(2097.71 267.00) scale(0.9770 0.9300)">η</text>
<text transform="translate(2108.08 267.00) scale(1.1546 0.9600)">θ</text>
<text transform="translate(2119.44 267.00) scale(1.1050 1)">ώ</text>
<text transform="translate(1907.39 295.00) scale(1.2579 0.9300)">r</text>
<text transform="translate(1916.09 295.00) scale(1.1303 0.9300)">g</text>
<text transform="translate(1928.28 295.00) scale(0.8627 1)">-</text>
<text transform="translate(1934.40 295.00) scale(1.0623 0.9300)">m</text>
<text transform="translate(1952.01 295.00) scale(1.1862 0.9300)">e</text>
<text transform="translate(1963.40 295.00) scale(0.9513 0.9600)">l</text>
<text transform="translate(1969.09 295.00) scale(1.0544 0.9300)">o</text>
<text transform="translate(1980.26 295.00) scale(1.1469 0.9300)">s</text>
<text transform="translate(1990.32 297.30) scale(0.8627 0.8000)">_</text>
<text transform="translate(1998.96 295.00) scale(1.1862 0.9300)">e</text>
<text transform="translate(2010.31 295.00) scale(1.1040 0.9300)">p</text>
<text transform="translate(2022.21 295.00) scale(1.1469 0.9300)">s</text>
<text transform="translate(2031.92 295.00) scale(1.1862 0.9300)">e</text>
<text transform="translate(2043.23 295.00) scale(1.2713 1)">t</text>
<text transform="translate(2050.90 295.00) scale(1.1862 0.9300)">e</text>
<text transform="translate(2062.26 295.00) scale(1.0623 0.9300)">m</text>
<text transform="translate(2080.11 295.00) scale(0.8627 1)">-</text>
<text transform="translate(2086.62 295.00) scale(0.9323 1)">1</text>
<text transform="translate(2098.20 295.00) scale(1.0274 1)">7</text>
<text transform="translate(2110.59 295.00) scale(0.9323 1)">1</text>
<text transform="translate(2122.44 295.00) scale(1.0259 1)">6</text>
<text transform="translate(1906.79 323.00) scale(1.2117 0.9300)">a</text>
<text transform="translate(1918.17 323.00) scale(1.0996 0.9300)">u</text>
<text transform="translate(1930.12 323.00) scale(1.2723 1)">t</text>
<text transform="translate(1938.16 323.00) scale(1.0996 0.9600)">h</text>
<text transform="translate(1950.04 323.00) scale(0.8633 1)">-</text>
<text transform="translate(1955.79 323.00) scale(1.1871 0.9300)">e</text>
<text transform="translate(1967.18 323.00) scale(0.9753 0.9300)">x</text>
<text transform="translate(1978.15 323.00) scale(1.1049 0.9300)">p</text>
<text transform="translate(1990.11 323.00) scale(1.2588 0.9300)">r</text>
<text transform="translate(1998.78 323.00) scale(1.1871 0.9300)">e</text>
<text transform="translate(2010.05 323.00) scale(1.1478 0.9300)">s</text>
<text transform="translate(2020.05 323.00) scale(1.1478 0.9300)">s</text>
<text transform="translate(2030.17 323.00) scale(0.9521 1)">i</text>
<text transform="translate(2035.87 323.00) scale(1.0552 0.9300)">o</text>
<text transform="translate(2046.84 323.00) scale(1.1278 0.9300)">n</text>
<text transform="translate(1717.23 390.00) scale(1.0970 0.9300)">u</text>
<text transform="translate(1729.15 390.00) scale(1.2559 0.9300)">r</text>
<text transform="translate(1737.88 390.00) scale(1.1252 0.9300)">n</text>
<text transform="translate(1750.55 390.04) scale(0.9066 0.8293)">:</text>
<text transform="translate(1717.18 418.00) scale(1.2727 1)">t</text>
<text transform="translate(1725.19 418.00) scale(1.2593 0.9300)">r</text>
<text transform="translate(1733.84 418.00) scale(1.2121 0.9300)">a</text>
<text transform="translate(1744.75 418.00) scale(1.0238 0.9300)">v</text>
<text transform="translate(1755.86 418.00) scale(1.1875 0.9300)">e</text>
<text transform="translate(1767.19 418.00) scale(1.2593 0.9300)">r</text>
<text transform="translate(1776.14 418.00) scale(1.1481 0.9300)">s</text>
<text transform="translate(1785.86 418.00) scale(1.1875 0.9300)">e</text>
<text transform="translate(1797.64 418.04) scale(0.9091 0.8293)">:</text>
<text transform="translate(1717.18 446.00) scale(1.2727 1)">t</text>
<text transform="translate(1725.26 446.00) scale(0.9524 1)">i</text>
<text transform="translate(1731.18 446.00) scale(1.2727 1)">t</text>
<text transform="translate(1739.26 446.00) scale(0.9524 0.9600)">l</text>
<text transform="translate(1744.86 446.00) scale(1.1875 0.9300)">e</text>
<text transform="translate(1756.64 446.04) scale(0.9091 0.8293)">:</text>
<text transform="translate(1762.64 446.04) scale(0.9091 0.8293)">:</text>
<text transform="translate(1716.62 474.00) scale(1.1764 0.9300)">e</text>
<text transform="translate(1727.50 474.00) scale(1.2008 0.9300)">a</text>
<text transform="translate(1739.18 474.04) scale(0.9006 0.8293)">:</text>
<text transform="translate(1744.75 474.00) scale(0.9435 1)">i</text>
<text transform="translate(1750.34 474.00) scale(1.1210 0.9600)">d</text>
<text transform="translate(1762.19 474.00) scale(1.1764 0.9300)">e</text>
<text transform="translate(1773.16 474.00) scale(1.1177 0.9300)">n</text>
<text transform="translate(1785.29 474.00) scale(1.2608 1)">t</text>
<text transform="translate(1793.30 474.00) scale(0.9435 1)">i</text>
<text transform="translate(1798.90 474.00) scale(1.1431 0.9600)">f</text>
<text transform="translate(1806.17 474.00) scale(0.9435 1)">i</text>
<text transform="translate(1811.72 474.00) scale(1.1764 0.9300)">e</text>
<text transform="translate(1822.94 474.00) scale(1.2475 0.9300)">r</text>
<text transform="translate(1832.30 474.04) scale(0.9006 0.8293)">:</text>
<text transform="translate(1837.84 474.00) scale(1.0897 0.9300)">u</text>
<text transform="translate(1849.73 474.00) scale(1.0631 0.9600)">k</text>
<text transform="translate(1860.26 474.00) scale(1.1764 0.9300)">e</text>
<text transform="translate(1870.79 474.00) scale(1.0390 0.9300)">y</text>
<text transform="translate(1716.61 502.00) scale(1.1859 0.9300)">e</text>
<text transform="translate(1727.58 502.00) scale(1.2104 0.9300)">a</text>
<text transform="translate(1739.36 502.04) scale(0.9078 0.8293)">:</text>
<text transform="translate(1744.67 502.00) scale(1.0541 0.9300)">o</text>
<text transform="translate(1756.20 502.00) scale(1.0754 0.9600)">b</text>
<text transform="translate(1766.84 502.00) scale(1.2089 1)">j</text>
<text transform="translate(1773.77 502.00) scale(0.8624 1)">-</text>
<text transform="translate(1779.85 502.00) scale(1.2710 1)">t</text>
<text transform="translate(1787.14 502.00) scale(1.0473 0.9300)">y</text>
<text transform="translate(1798.86 502.00) scale(1.1037 0.9300)">p</text>
<text transform="translate(1810.48 502.00) scale(1.1859 0.9300)">e</text>
<text transform="translate(1822.24 502.04) scale(0.9078 0.8293)">:</text>
<text transform="translate(1891.00 390.00) scale(1.0602 0.9300)">o</text>
<text transform="translate(1902.36 390.00) scale(0.9566 1)">i</text>
<text transform="translate(1908.76 390.04) scale(0.9131 0.8293)">:</text>
<text transform="translate(1914.77 390.00) scale(0.9375 1)">1</text>
<text transform="translate(1926.38 390.00) scale(1.0635 1)">5</text>
<text transform="translate(1938.43 390.00) scale(1.0635 1)">5</text>
<text transform="translate(1950.93 390.00) scale(0.9375 1)">1</text>
<text transform="translate(1890.95 418.00) scale(1.1365 0.9600)">d</text>
<text transform="translate(1903.36 418.00) scale(0.9565 1)">i</text>
<text transform="translate(1909.26 418.00) scale(1.1531 0.9300)">s</text>
<text transform="translate(1919.35 418.00) scale(1.2782 1)">t</text>
<text transform="translate(1927.04 418.00) scale(1.2173 0.9300)">a</text>
<text transform="translate(1938.18 418.00) scale(1.1331 0.9300)">n</text>
<text transform="translate(1950.23 418.00) scale(1.0985 0.9300)">c</text>
<text transform="translate(1960.20 418.00) scale(1.1926 0.9300)">e</text>
<text transform="translate(1972.03 418.04) scale(0.9130 0.8293)">:</text>
<text transform="translate(1983.52 417.67) scale(0.9515 0.9437)">[</text>
<text transform="translate(1991.09 418.00) scale(0.9374 1)">1</text>
<text transform="translate(2003.07 417.67) scale(0.9515 0.9437)">]</text>
<text transform="translate(2039.31 418.00) scale(1.0526 0.9300)">o</text>
<text transform="translate(2050.51 418.00) scale(1.2557 0.9300)">r</text>
<text transform="translate(2059.20 418.00) scale(1.1284 0.9600)">d</text>
<text transform="translate(2071.52 418.00) scale(0.9497 1)">i</text>
<text transform="translate(2077.18 418.00) scale(1.1250 0.9300)">n</text>
<text transform="translate(2089.05 418.00) scale(1.2087 0.9300)">a</text>
<text transform="translate(2100.44 418.00) scale(0.9497 0.9600)">l</text>
<text transform="translate(2106.80 418.04) scale(0.9065 0.8293)">:</text>
<text transform="translate(2118.37 418.00) scale(1.0471 1)">4</text>
<text transform="translate(1891.29 446.00) scale(1.0166 1)">H</text>
<text transform="translate(1907.04 446.00) scale(0.9512 1)">i</text>
<text transform="translate(1912.91 446.00) scale(1.1467 0.9300)">s</text>
<text transform="translate(1929.01 446.00) scale(0.9847 1)">M</text>
<text transform="translate(1947.57 446.00) scale(1.2106 0.9300)">a</text>
<text transform="translate(1958.86 446.00) scale(1.1467 0.9300)">s</text>
<text transform="translate(1968.89 446.00) scale(1.2712 1)">t</text>
<text transform="translate(1976.55 446.00) scale(1.1860 0.9300)">e</text>
<text transform="translate(1987.87 446.00) scale(1.2577 0.9300)">r</text>
<text transform="translate(1997.85 446.00) scale(0.7000 1)">&#x27;</text>
<text transform="translate(2001.80 446.00) scale(1.1467 0.9300)">s</text>
<text transform="translate(2017.16 446.00) scale(0.9480 1)">V</text>
<text transform="translate(2030.59 446.00) scale(1.0542 0.9300)">o</text>
<text transform="translate(2041.88 446.00) scale(0.9512 1)">i</text>
<text transform="translate(2047.54 446.00) scale(1.0924 0.9300)">c</text>
<text transform="translate(2057.45 446.00) scale(1.1860 0.9300)">e</text>
<text transform="translate(2075.49 444.91) scale(0.7816 0.9079)">(</text>
<text transform="translate(2081.32 446.00) scale(0.9988 1)">Τ</text>
<text transform="translate(2093.51 446.00) scale(1.0542 0.9300)">ο</text>
<text transform="translate(2104.77 446.00) scale(1.0513 0.9300)">υ</text>
<text transform="translate(2115.20 446.00) scale(1.0575 0.9300)">ρ</text>
<text transform="translate(2126.73 446.00) scale(1.0986 0.9300)">κ</text>
<text transform="translate(2138.45 446.00) scale(1.0939 1)">ί</text>
<text transform="translate(2145.35 446.00) scale(1.1780 0.9300)">α</text>
<text transform="translate(2158.34 446.00) scale(1.1652 1)">ς</text>
<text transform="translate(2169.31 444.91) scale(0.7816 0.9079)">)</text>
<text transform="translate(1891.53 474.00) scale(1.0993 0.9300)">u</text>
<text transform="translate(1903.48 474.00) scale(1.2585 0.9300)">r</text>
<text transform="translate(1912.22 474.00) scale(1.1275 0.9300)">n</text>
<text transform="translate(1924.92 474.04) scale(0.9085 0.8293)">:</text>
<text transform="translate(1930.46 474.00) scale(1.2585 0.9300)">r</text>
<text transform="translate(1939.17 474.00) scale(1.1309 0.9300)">g</text>
<text transform="translate(1951.90 474.04) scale(0.9085 0.8293)">:</text>
<text transform="translate(1957.01 474.00) scale(1.0232 0.9300)">v</text>
<text transform="translate(1968.50 474.00) scale(0.9750 0.9300)">x</text>
<text transform="translate(1979.88 474.04) scale(0.9085 0.8293)">:</text>
<text transform="translate(1985.50 474.00) scale(0.9518 1)">i</text>
<text transform="translate(1991.14 474.00) scale(1.1309 0.9600)">d</text>
<text transform="translate(2003.87 474.04) scale(0.9085 0.8293)">:</text>
<text transform="translate(2009.16 474.00) scale(1.0931 0.9300)">c</text>
<text transform="translate(2019.08 474.00) scale(1.1867 0.9300)">e</text>
<text transform="translate(2030.15 474.00) scale(1.1275 0.9300)">n</text>
<text transform="translate(2042.39 474.00) scale(1.2719 1)">t</text>
<text transform="translate(2050.38 474.00) scale(1.2585 0.9300)">r</text>
<text transform="translate(2059.04 474.00) scale(1.2114 0.9300)">a</text>
<text transform="translate(2070.45 474.00) scale(0.9518 0.9600)">l</text>
<text transform="translate(2076.82 474.04) scale(0.9085 0.8293)">:</text>
<text transform="translate(2082.42 474.00) scale(1.0493 1)">4</text>
<text transform="translate(2094.39 474.00) scale(1.0279 1)">7</text>
<text transform="translate(2106.78 474.00) scale(0.9327 1)">1</text>
<text transform="translate(2118.61 474.00) scale(1.0549 1)">8</text>
<text transform="translate(1890.89 502.00) scale(1.2074 0.9300)">a</text>
<text transform="translate(1902.23 502.00) scale(1.0957 0.9300)">u</text>
<text transform="translate(1914.14 502.00) scale(1.2678 1)">t</text>
<text transform="translate(1922.16 502.00) scale(1.0957 0.9600)">h</text>
<text transform="translate(1933.99 502.00) scale(0.8603 1)">-</text>
<text transform="translate(1939.82 502.00) scale(1.0514 0.9300)">o</text>
<text transform="translate(1951.00 502.00) scale(1.2544 0.9300)">r</text>
<text transform="translate(1959.69 502.00) scale(1.1272 0.9300)">g</text>
<text transform="translate(1971.58 502.00) scale(1.2074 0.9300)">a</text>
<text transform="translate(1982.63 502.00) scale(1.1238 0.9300)">n</text>
<text transform="translate(1994.91 502.00) scale(0.9487 1)">i</text>
<text transform="translate(2000.86 502.00) scale(1.0263 0.9300)">z</text>
<text transform="translate(2010.43 502.00) scale(1.2074 0.9300)">a</text>
<text transform="translate(2021.72 502.00) scale(1.2678 1)">t</text>
<text transform="translate(2029.77 502.00) scale(0.9487 1)">i</text>
<text transform="translate(2035.45 502.00) scale(1.0514 0.9300)">o</text>
<text transform="translate(2046.38 502.00) scale(1.1238 0.9300)">n</text>
<text transform="translate(1733.43 568.00) scale(1.0970 0.9300)">u</text>
<text transform="translate(1745.35 568.00) scale(1.2559 0.9300)">r</text>
<text transform="translate(1754.08 568.00) scale(1.1252 0.9300)">n</text>
<text transform="translate(1766.75 568.04) scale(0.9066 0.8293)">:</text>
<text transform="translate(1733.38 596.00) scale(1.2727 1)">t</text>
<text transform="translate(1741.39 596.00) scale(1.2593 0.9300)">r</text>
<text transform="translate(1750.04 596.00) scale(1.2121 0.9300)">a</text>
<text transform="translate(1760.95 596.00) scale(1.0238 0.9300)">v</text>
<text transform="translate(1772.06 596.00) scale(1.1875 0.9300)">e</text>
<text transform="translate(1783.39 596.00) scale(1.2593 0.9300)">r</text>
<text transform="translate(1792.34 596.00) scale(1.1481 0.9300)">s</text>
<text transform="translate(1802.06 596.00) scale(1.1875 0.9300)">e</text>
<text transform="translate(1813.84 596.04) scale(0.9091 0.8293)">:</text>
<text transform="translate(1733.38 624.00) scale(1.2727 1)">t</text>
<text transform="translate(1741.46 624.00) scale(0.9524 1)">i</text>
<text transform="translate(1747.38 624.00) scale(1.2727 1)">t</text>
<text transform="translate(1755.46 624.00) scale(0.9524 0.9600)">l</text>
<text transform="translate(1761.06 624.00) scale(1.1875 0.9300)">e</text>
<text transform="translate(1772.84 624.04) scale(0.9091 0.8293)">:</text>
<text transform="translate(1778.84 624.04) scale(0.9091 0.8293)">:</text>
<text transform="translate(1732.82 652.00) scale(1.1764 0.9300)">e</text>
<text transform="translate(1743.70 652.00) scale(1.2008 0.9300)">a</text>
<text transform="translate(1755.38 652.04) scale(0.9006 0.8293)">:</text>
<text transform="translate(1760.95 652.00) scale(0.9435 1)">i</text>
<text transform="translate(1766.54 652.00) scale(1.1210 0.9600)">d</text>
<text transform="translate(1778.39 652.00) scale(1.1764 0.9300)">e</text>
<text transform="translate(1789.36 652.00) scale(1.1177 0.9300)">n</text>
<text transform="translate(1801.49 652.00) scale(1.2608 1)">t</text>
<text transform="translate(1809.50 652.00) scale(0.9435 1)">i</text>
<text transform="translate(1815.10 652.00) scale(1.1431 0.9600)">f</text>
<text transform="translate(1822.37 652.00) scale(0.9435 1)">i</text>
<text transform="translate(1827.92 652.00) scale(1.1764 0.9300)">e</text>
<text transform="translate(1839.14 652.00) scale(1.2475 0.9300)">r</text>
<text transform="translate(1848.50 652.04) scale(0.9006 0.8293)">:</text>
<text transform="translate(1854.04 652.00) scale(1.0897 0.9300)">u</text>
<text transform="translate(1865.93 652.00) scale(1.0631 0.9600)">k</text>
<text transform="translate(1876.46 652.00) scale(1.1764 0.9300)">e</text>
<text transform="translate(1886.99 652.00) scale(1.0390 0.9300)">y</text>
<text transform="translate(1732.81 680.00) scale(1.1859 0.9300)">e</text>
<text transform="translate(1743.78 680.00) scale(1.2104 0.9300)">a</text>
<text transform="translate(1755.56 680.04) scale(0.9078 0.8293)">:</text>
<text transform="translate(1760.87 680.00) scale(1.0541 0.9300)">o</text>
<text transform="translate(1772.40 680.00) scale(1.0754 0.9600)">b</text>
<text transform="translate(1783.04 680.00) scale(1.2089 1)">j</text>
<text transform="translate(1789.97 680.00) scale(0.8624 1)">-</text>
<text transform="translate(1796.05 680.00) scale(1.2710 1)">t</text>
<text transform="translate(1803.34 680.00) scale(1.0473 0.9300)">y</text>
<text transform="translate(1815.06 680.00) scale(1.1037 0.9300)">p</text>
<text transform="translate(1826.68 680.00) scale(1.1859 0.9300)">e</text>
<text transform="translate(1838.44 680.04) scale(0.9078 0.8293)">:</text>
<text transform="translate(1906.80 568.00) scale(1.0655 0.9300)">o</text>
<text transform="translate(1918.21 568.00) scale(0.9614 1)">i</text>
<text transform="translate(1924.65 568.04) scale(0.9177 0.8293)">:</text>
<text transform="translate(1930.26 568.00) scale(1.0671 1)">3</text>
<text transform="translate(1942.39 568.00) scale(1.0383 1)">7</text>
<text transform="translate(1954.75 568.00) scale(1.0655 1)">8</text>
<text transform="translate(1966.60 568.00) scale(1.0671 1)">3</text>
<text transform="translate(1906.75 596.00) scale(1.1335 0.9600)">d</text>
<text transform="translate(1919.13 596.00) scale(0.9540 1)">i</text>
<text transform="translate(1925.02 596.00) scale(1.1501 0.9300)">s</text>
<text transform="translate(1935.08 596.00) scale(1.2749 1)">t</text>
<text transform="translate(1942.75 596.00) scale(1.2142 0.9300)">a</text>
<text transform="translate(1953.87 596.00) scale(1.1302 0.9300)">n</text>
<text transform="translate(1965.88 596.00) scale(1.0956 0.9300)">c</text>
<text transform="translate(1975.83 596.00) scale(1.1895 0.9300)">e</text>
<text transform="translate(1987.62 596.04) scale(0.9107 0.8293)">:</text>
<text transform="translate(1999.09 595.67) scale(0.9490 0.9437)">[</text>
<text transform="translate(2006.64 596.00) scale(0.9349 1)">1</text>
<text transform="translate(2018.58 595.67) scale(0.9490 0.9437)">]</text>
<text transform="translate(2055.31 596.00) scale(1.0538 0.9300)">o</text>
<text transform="translate(2066.52 596.00) scale(1.2571 0.9300)">r</text>
<text transform="translate(2075.22 596.00) scale(1.1297 0.9600)">d</text>
<text transform="translate(2087.56 596.00) scale(0.9508 1)">i</text>
<text transform="translate(2093.22 596.00) scale(1.1263 0.9300)">n</text>
<text transform="translate(2105.11 596.00) scale(1.2101 0.9300)">a</text>
<text transform="translate(2116.51 596.00) scale(0.9508 0.9600)">l</text>
<text transform="translate(2122.87 596.04) scale(0.9076 0.8293)">:</text>
<text transform="translate(2134.41 596.00) scale(1.0554 1)">3</text>
<text transform="translate(1907.35 624.00) scale(0.9847 1)">T</text>
<text transform="translate(1919.64 624.00) scale(1.0832 0.9300)">u</text>
<text transform="translate(1931.42 624.00) scale(1.2400 0.9300)">r</text>
<text transform="translate(1940.32 624.00) scale(1.0568 0.9600)">k</text>
<text transform="translate(1950.79 624.00) scale(1.1694 0.9300)">e</text>
<text transform="translate(1961.26 624.00) scale(1.0328 0.9300)">y</text>
<text transform="translate(1907.32 652.00) scale(1.1005 0.9300)">u</text>
<text transform="translate(1919.29 652.00) scale(1.2598 0.9300)">r</text>
<text transform="translate(1928.04 652.00) scale(1.1287 0.9300)">n</text>
<text transform="translate(1940.75 652.04) scale(0.9095 0.8293)">:</text>
<text transform="translate(1946.30 652.00) scale(1.2598 0.9300)">r</text>
<text transform="translate(1955.02 652.00) scale(1.1321 0.9300)">g</text>
<text transform="translate(1967.76 652.04) scale(0.9095 0.8293)">:</text>
<text transform="translate(1972.88 652.00) scale(1.0243 0.9300)">v</text>
<text transform="translate(1984.38 652.00) scale(0.9760 0.9300)">x</text>
<text transform="translate(1995.78 652.04) scale(0.9095 0.8293)">:</text>
<text transform="translate(2001.40 652.00) scale(0.9528 1)">i</text>
<text transform="translate(2007.05 652.00) scale(1.1321 0.9600)">d</text>
<text transform="translate(2019.79 652.04) scale(0.9095 0.8293)">:</text>
<text transform="translate(2025.08 652.00) scale(1.0942 0.9300)">c</text>
<text transform="translate(2035.02 652.00) scale(1.1880 0.9300)">e</text>
<text transform="translate(2046.10 652.00) scale(1.1287 0.9300)">n</text>
<text transform="translate(2058.35 652.00) scale(1.2733 1)">t</text>
<text transform="translate(2066.36 652.00) scale(1.2598 0.9300)">r</text>
<text transform="translate(2075.02 652.00) scale(1.2127 0.9300)">a</text>
<text transform="translate(2086.44 652.00) scale(0.9528 0.9600)">l</text>
<text transform="translate(2092.82 652.04) scale(0.9095 0.8293)">:</text>
<text transform="translate(2098.68 652.00) scale(1.0004 1)">2</text>
<text transform="translate(2110.65 652.00) scale(1.0560 1)">0</text>
<text transform="translate(2122.43 652.00) scale(1.0505 1)">4</text>
<text transform="translate(1906.69 680.00) scale(1.2146 0.9300)">a</text>
<text transform="translate(1918.10 680.00) scale(1.1023 0.9300)">u</text>
<text transform="translate(1930.08 680.00) scale(1.2753 1)">t</text>
<text transform="translate(1938.14 680.00) scale(1.1023 0.9600)">h</text>
<text transform="translate(1950.04 680.00) scale(0.8654 1)">-</text>
<text transform="translate(1956.17 680.00) scale(1.1075 0.9300)">p</text>
<text transform="translate(1968.24 680.00) scale(0.9543 0.9600)">l</text>
<text transform="translate(1973.83 680.00) scale(1.2146 0.9300)">a</text>
<text transform="translate(1984.94 680.00) scale(1.0960 0.9300)">c</text>
<text transform="translate(1994.89 680.00) scale(1.1899 0.9300)">e</text>
<text transform="translate(1011.15 68.00) scale(1.0011 1)">2</text>
<text transform="translate(1023.30 68.04) scale(0.9101 0.8293)">:</text>
<text transform="translate(1034.73 68.00) scale(0.8957 1)">‡</text>
<text transform="translate(1043.87 68.00) scale(1.2606 0.9300)">r</text>
<text transform="translate(1052.60 68.00) scale(1.1328 0.9300)">g</text>
<text transform="translate(1065.34 68.04) scale(0.9101 0.8293)">:</text>
<text transform="translate(1070.95 68.00) scale(1.0646 0.9300)">m</text>
<text transform="translate(1088.57 68.00) scale(1.2134 0.9300)">a</text>
<text transform="translate(1099.68 68.00) scale(1.1294 0.9300)">n</text>
<text transform="translate(1112.02 68.00) scale(0.9534 1)">i</text>
<text transform="translate(1117.69 68.00) scale(1.1551 0.9600)">f</text>
<text transform="translate(1125.41 68.04) scale(0.9101 0.8293)">:</text>
<text transform="translate(1131.00 68.00) scale(1.1065 0.9300)">p</text>
<text transform="translate(1142.65 68.00) scale(1.1888 0.9300)">e</text>
<text transform="translate(1153.99 68.00) scale(1.2606 0.9300)">r</text>
<text transform="translate(1162.74 68.00) scale(1.1551 0.9600)">f</text>
<text transform="translate(1169.78 68.00) scale(1.0567 0.9300)">o</text>
<text transform="translate(1181.02 68.00) scale(1.2606 0.9300)">r</text>
<text transform="translate(1190.08 68.00) scale(1.0646 0.9300)">m</text>
<text transform="translate(1207.70 68.00) scale(1.2134 0.9300)">a</text>
<text transform="translate(1218.81 68.00) scale(1.1294 0.9300)">n</text>
<text transform="translate(1230.82 68.00) scale(1.0949 0.9300)">c</text>
<text transform="translate(1240.76 68.00) scale(1.1888 0.9300)">e</text>
<text transform="translate(1251.96 68.00) scale(0.8957 1)">‡</text>
<text transform="translate(1260.88 68.00) scale(1.0567 0.9300)">o</text>
<text transform="translate(1272.19 68.00) scale(0.9534 1)">i</text>
<text transform="translate(1278.58 68.04) scale(0.9101 0.8293)">:</text>
<text transform="translate(1284.18 68.00) scale(1.0511 1)">4</text>
<text transform="translate(1296.42 68.00) scale(1.0567 1)">8</text>
<text transform="translate(1308.19 68.00) scale(1.0297 1)">7</text>
<text transform="translate(1320.48 68.00) scale(1.0011 1)">2</text>
<text transform="translate(1332.05 68.00) scale(0.8957 1)">‡</text>
<text transform="translate(1340.96 68.00) scale(1.0567 0.9300)">o</text>
<text transform="translate(1352.28 68.00) scale(0.9534 1)">i</text>
<text transform="translate(1358.66 68.04) scale(0.9101 0.8293)">:</text>
<text transform="translate(1364.65 68.00) scale(0.9343 1)">1</text>
<text transform="translate(1376.22 68.00) scale(1.0600 1)">5</text>
<text transform="translate(1388.52 68.00) scale(1.0567 1)">8</text>
<text transform="translate(1400.69 68.00) scale(0.9343 1)">1</text>
<text transform="translate(1412.14 68.00) scale(0.8957 1)">‡</text>
<text transform="translate(1422.02 68.00) scale(1.3014 0.9818)">#</text>
<text transform="translate(1437.30 68.00) scale(1.0583 1)">3</text>
<text transform="translate(1449.60 68.00) scale(1.0552 1)">9</text>
<text transform="translate(1461.75 68.00) scale(0.9343 1)">1</text>
<text transform="translate(1473.65 68.00) scale(1.0011 1)">2</text>
<text transform="translate(1485.36 68.00) scale(1.0583 1)">3</text>
<text transform="translate(1497.37 68.00) scale(1.0583 1)">3</text>
<text transform="translate(1509.37 68.00) scale(1.0600 1)">5</text>
<text transform="translate(969.05 140.00) scale(1.0009 1)">I</text>
<text transform="translate(976.31 140.00) scale(1.0009 1)">2</text>
<text transform="translate(988.45 140.04) scale(0.9099 0.8293)">:</text>
<text transform="translate(999.88 140.00) scale(0.8956 1)">‡</text>
<text transform="translate(1009.02 140.00) scale(1.2604 0.9300)">r</text>
<text transform="translate(1017.70 140.00) scale(1.1886 0.9300)">e</text>
<text transform="translate(1028.60 140.00) scale(1.0248 0.9300)">v</text>
<text transform="translate(1039.72 140.00) scale(1.1886 0.9300)">e</text>
<text transform="translate(1051.06 140.00) scale(1.2604 0.9300)">r</text>
<text transform="translate(1060.02 140.00) scale(1.1492 0.9300)">s</text>
<text transform="translate(1069.75 140.00) scale(1.1886 0.9300)">e</text>
<text transform="translate(1081.54 140.04) scale(0.9099 0.8293)">:</text>
<text transform="translate(1087.09 140.00) scale(1.2604 0.9300)">r</text>
<text transform="translate(1095.82 140.00) scale(1.1326 0.9300)">g</text>
<text transform="translate(1108.57 140.04) scale(0.9099 0.8293)">:</text>
<text transform="translate(1114.17 140.00) scale(1.0645 0.9300)">m</text>
<text transform="translate(1131.79 140.00) scale(1.2132 0.9300)">a</text>
<text transform="translate(1142.90 140.00) scale(1.1293 0.9300)">n</text>
<text transform="translate(1155.23 140.00) scale(0.9533 1)">i</text>
<text transform="translate(1160.90 140.00) scale(1.1549 0.9600)">f</text>
<text transform="translate(1168.62 140.04) scale(0.9099 0.8293)">:</text>
<text transform="translate(1174.21 140.00) scale(1.1063 0.9300)">p</text>
<text transform="translate(1185.86 140.00) scale(1.1886 0.9300)">e</text>
<text transform="translate(1197.20 140.00) scale(1.2604 0.9300)">r</text>
<text transform="translate(1205.94 140.00) scale(1.1549 0.9600)">f</text>
<text transform="translate(1212.98 140.00) scale(1.0565 0.9300)">o</text>
<text transform="translate(1224.22 140.00) scale(1.2604 0.9300)">r</text>
<text transform="translate(1233.28 140.00) scale(1.0645 0.9300)">m</text>
<text transform="translate(1250.90 140.00) scale(1.2132 0.9300)">a</text>
<text transform="translate(1262.01 140.00) scale(1.1293 0.9300)">n</text>
<text transform="translate(1274.01 140.00) scale(1.0948 0.9300)">c</text>
<text transform="translate(1283.95 140.00) scale(1.1886 0.9300)">e</text>
<text transform="translate(1295.15 140.00) scale(0.8956 1)">‡</text>
<text transform="translate(1304.07 140.00) scale(1.0565 0.9300)">o</text>
<text transform="translate(1315.38 140.00) scale(0.9533 1)">i</text>
<text transform="translate(1321.76 140.04) scale(0.9099 0.8293)">:</text>
<text transform="translate(1327.75 140.00) scale(0.9342 1)">1</text>
<text transform="translate(1339.32 140.00) scale(1.0598 1)">5</text>
<text transform="translate(1351.61 140.00) scale(1.0565 1)">8</text>
<text transform="translate(1363.78 140.00) scale(0.9342 1)">1</text>
<text transform="translate(1375.23 140.00) scale(0.8956 1)">‡</text>
<text transform="translate(1384.14 140.00) scale(1.0565 0.9300)">o</text>
<text transform="translate(1395.46 140.00) scale(0.9533 1)">i</text>
<text transform="translate(1401.84 140.04) scale(0.9099 0.8293)">:</text>
<text transform="translate(1407.44 140.00) scale(1.0510 1)">4</text>
<text transform="translate(1419.68 140.00) scale(1.0565 1)">8</text>
<text transform="translate(1431.44 140.00) scale(1.0295 1)">7</text>
<text transform="translate(1443.74 140.00) scale(1.0009 1)">2</text>
<text transform="translate(1455.30 140.00) scale(0.8956 1)">‡</text>
<text transform="translate(1465.18 140.00) scale(1.3012 0.9818)">#</text>
<text transform="translate(1480.49 140.00) scale(1.0295 1)">7</text>
<text transform="translate(1492.52 140.00) scale(1.0510 1)">4</text>
<text transform="translate(1504.49 140.00) scale(1.0581 1)">3</text>
<text transform="translate(1516.50 140.00) scale(1.0581 1)">3</text>
<text transform="translate(1528.56 140.00) scale(1.0510 1)">4</text>
<text transform="translate(1540.52 140.00) scale(1.0581 1)">3</text>
<text transform="translate(1552.82 140.00) scale(1.0280 1)">6</text>
<text transform="translate(1011.15 256.00) scale(1.0016 1)">2</text>
<text transform="translate(1023.30 256.04) scale(0.9105 0.8293)">:</text>
<text transform="translate(1034.74 256.00) scale(0.8961 1)">‡</text>
<text transform="translate(1043.89 256.00) scale(1.2612 0.9300)">r</text>
<text transform="translate(1052.62 256.00) scale(1.1334 0.9300)">g</text>
<text transform="translate(1065.37 256.04) scale(0.9105 0.8293)">:</text>
<text transform="translate(1070.98 256.00) scale(1.0652 0.9300)">m</text>
<text transform="translate(1088.61 256.00) scale(1.2140 0.9300)">a</text>
<text transform="translate(1099.72 256.00) scale(1.1300 0.9300)">n</text>
<text transform="translate(1112.07 256.00) scale(0.9539 1)">i</text>
<text transform="translate(1117.74 256.00) scale(1.1557 0.9600)">f</text>
<text transform="translate(1125.47 256.04) scale(0.9105 0.8293)">:</text>
<text transform="translate(1131.06 256.00) scale(1.1070 0.9300)">p</text>
<text transform="translate(1142.72 256.00) scale(1.1894 0.9300)">e</text>
<text transform="translate(1154.06 256.00) scale(1.2612 0.9300)">r</text>
<text transform="translate(1162.81 256.00) scale(1.1557 0.9600)">f</text>
<text transform="translate(1169.86 256.00) scale(1.0572 0.9300)">o</text>
<text transform="translate(1181.10 256.00) scale(1.2612 0.9300)">r</text>
<text transform="translate(1190.16 256.00) scale(1.0652 0.9300)">m</text>
<text transform="translate(1207.80 256.00) scale(1.2140 0.9300)">a</text>
<text transform="translate(1218.91 256.00) scale(1.1300 0.9300)">n</text>
<text transform="translate(1230.92 256.00) scale(1.0955 0.9300)">c</text>
<text transform="translate(1240.87 256.00) scale(1.1894 0.9300)">e</text>
<text transform="translate(1252.08 256.00) scale(0.8961 1)">‡</text>
<text transform="translate(1261.00 256.00) scale(1.0572 0.9300)">o</text>
<text transform="translate(1272.32 256.00) scale(0.9539 1)">i</text>
<text transform="translate(1278.71 256.04) scale(0.9105 0.8293)">:</text>
<text transform="translate(1284.32 256.00) scale(1.0517 1)">4</text>
<text transform="translate(1296.56 256.00) scale(1.0572 1)">8</text>
<text transform="translate(1308.33 256.00) scale(1.0302 1)">7</text>
<text transform="translate(1320.64 256.00) scale(1.0016 1)">2</text>
<text transform="translate(1332.21 256.00) scale(0.8961 1)">‡</text>
<text transform="translate(1341.13 256.00) scale(1.0572 0.9300)">o</text>
<text transform="translate(1352.45 256.00) scale(0.9539 1)">i</text>
<text transform="translate(1358.83 256.04) scale(0.9105 0.8293)">:</text>
<text transform="translate(1364.82 256.00) scale(0.9348 1)">1</text>
<text transform="translate(1376.44 256.00) scale(1.0302 1)">7</text>
<text transform="translate(1388.86 256.00) scale(0.9348 1)">1</text>
<text transform="translate(1400.74 256.00) scale(1.0286 1)">6</text>
<text transform="translate(1412.33 256.00) scale(0.8961 1)">‡</text>
<text transform="translate(1422.22 256.00) scale(1.3020 0.9818)">#</text>
<text transform="translate(1437.51 256.00) scale(1.0588 1)">3</text>
<text transform="translate(1449.81 256.00) scale(1.0557 1)">9</text>
<text transform="translate(1461.98 256.00) scale(0.9348 1)">1</text>
<text transform="translate(1473.88 256.00) scale(1.0016 1)">2</text>
<text transform="translate(1485.59 256.00) scale(1.0588 1)">3</text>
<text transform="translate(1497.61 256.00) scale(1.0588 1)">3</text>
<text transform="translate(1509.91 256.00) scale(1.0286 1)">6</text>
<text transform="translate(969.05 280.00) scale(1.0010 1)">I</text>
<text transform="translate(976.31 280.00) scale(1.0010 1)">2</text>
<text transform="translate(988.46 280.04) scale(0.9100 0.8293)">:</text>
<text transform="translate(999.88 280.00) scale(0.8956 1)">‡</text>
<text transform="translate(1009.02 280.00) scale(1.2605 0.9300)">r</text>
<text transform="translate(1017.71 280.00) scale(1.1887 0.9300)">e</text>
<text transform="translate(1028.61 280.00) scale(1.0248 0.9300)">v</text>
<text transform="translate(1039.73 280.00) scale(1.1887 0.9300)">e</text>
<text transform="translate(1051.07 280.00) scale(1.2605 0.9300)">r</text>
<text transform="translate(1060.03 280.00) scale(1.1493 0.9300)">s</text>
<text transform="translate(1069.76 280.00) scale(1.1887 0.9300)">e</text>
<text transform="translate(1081.55 280.04) scale(0.9100 0.8293)">:</text>
<text transform="translate(1087.10 280.00) scale(1.2605 0.9300)">r</text>
<text transform="translate(1095.83 280.00) scale(1.1327 0.9300)">g</text>
<text transform="translate(1108.58 280.04) scale(0.9100 0.8293)">:</text>
<text transform="translate(1114.18 280.00) scale(1.0646 0.9300)">m</text>
<text transform="translate(1131.80 280.00) scale(1.2133 0.9300)">a</text>
<text transform="translate(1142.91 280.00) scale(1.1293 0.9300)">n</text>
<text transform="translate(1155.25 280.00) scale(0.9533 1)">i</text>
<text transform="translate(1160.92 280.00) scale(1.1550 0.9600)">f</text>
<text transform="translate(1168.64 280.04) scale(0.9100 0.8293)">:</text>
<text transform="translate(1174.23 280.00) scale(1.1064 0.9300)">p</text>
<text transform="translate(1185.88 280.00) scale(1.1887 0.9300)">e</text>
<text transform="translate(1197.22 280.00) scale(1.2605 0.9300)">r</text>
<text transform="translate(1205.96 280.00) scale(1.1550 0.9600)">f</text>
<text transform="translate(1213.00 280.00) scale(1.0566 0.9300)">o</text>
<text transform="translate(1224.24 280.00) scale(1.2605 0.9300)">r</text>
<text transform="translate(1233.30 280.00) scale(1.0646 0.9300)">m</text>
<text transform="translate(1250.93 280.00) scale(1.2133 0.9300)">a</text>
<text transform="translate(1262.03 280.00) scale(1.1293 0.9300)">n</text>
<text transform="translate(1274.04 280.00) scale(1.0949 0.9300)">c</text>
<text transform="translate(1283.98 280.00) scale(1.1887 0.9300)">e</text>
<text transform="translate(1295.18 280.00) scale(0.8956 1)">‡</text>
<text transform="translate(1304.10 280.00) scale(1.0566 0.9300)">o</text>
<text transform="translate(1315.41 280.00) scale(0.9533 1)">i</text>
<text transform="translate(1321.79 280.04) scale(0.9100 0.8293)">:</text>
<text transform="translate(1327.78 280.00) scale(0.9343 1)">1</text>
<text transform="translate(1339.39 280.00) scale(1.0296 1)">7</text>
<text transform="translate(1351.80 280.00) scale(0.9343 1)">1</text>
<text transform="translate(1363.68 280.00) scale(1.0281 1)">6</text>
<text transform="translate(1375.26 280.00) scale(0.8956 1)">‡</text>
<text transform="translate(1384.18 280.00) scale(1.0566 0.9300)">o</text>
<text transform="translate(1395.49 280.00) scale(0.9533 1)">i</text>
<text transform="translate(1401.87 280.04) scale(0.9100 0.8293)">:</text>
<text transform="translate(1407.48 280.00) scale(1.0511 1)">4</text>
<text transform="translate(1419.71 280.00) scale(1.0566 1)">8</text>
<text transform="translate(1431.48 280.00) scale(1.0296 1)">7</text>
<text transform="translate(1443.78 280.00) scale(1.0010 1)">2</text>
<text transform="translate(1455.34 280.00) scale(0.8956 1)">‡</text>
<text transform="translate(1465.23 280.00) scale(1.3013 0.9818)">#</text>
<text transform="translate(1480.78 280.00) scale(1.0566 1)">8</text>
<text transform="translate(1492.79 280.00) scale(1.0566 1)">0</text>
<text transform="translate(1504.82 280.00) scale(1.0281 1)">6</text>
<text transform="translate(1516.55 280.00) scale(1.0582 1)">3</text>
<text transform="translate(1528.82 280.00) scale(1.0566 1)">0</text>
<text transform="translate(1540.57 280.00) scale(1.0582 1)">3</text>
<text transform="translate(1552.89 280.00) scale(1.0010 1)">2</text>
<text transform="translate(862.78 315.67) scale(0.9480 0.9437)">[</text>
<text transform="translate(870.32 316.00) scale(0.9339 1)">1</text>
<text transform="translate(882.21 316.00) scale(1.0006 1)">2</text>
<text transform="translate(899.58 316.00) scale(1.1882 0.9300)">e</text>
<text transform="translate(910.57 316.00) scale(1.2129 0.9300)">a</text>
<text transform="translate(922.37 316.04) scale(0.9097 0.8293)">:</text>
<text transform="translate(927.97 316.00) scale(1.0642 0.9300)">m</text>
<text transform="translate(945.59 316.00) scale(1.2129 0.9300)">a</text>
<text transform="translate(956.69 316.00) scale(1.1289 0.9300)">n</text>
<text transform="translate(969.03 316.00) scale(0.9530 1)">i</text>
<text transform="translate(974.69 316.00) scale(1.1546 0.9600)">f</text>
<text transform="translate(982.41 316.04) scale(0.9097 0.8293)">:</text>
<text transform="translate(988.25 316.00) scale(1.0483 1)">P</text>
<text transform="translate(1001.01 316.00) scale(1.1007 0.9300)">u</text>
<text transform="translate(1013.29 316.00) scale(1.0776 0.9600)">b</text>
<text transform="translate(1025.06 316.00) scale(0.9530 0.9600)">l</text>
<text transform="translate(1031.07 316.00) scale(0.9530 1)">i</text>
<text transform="translate(1036.74 316.00) scale(1.0944 0.9300)">c</text>
<text transform="translate(1046.65 316.00) scale(1.2129 0.9300)">a</text>
<text transform="translate(1058.00 316.00) scale(1.2735 1)">t</text>
<text transform="translate(1066.09 316.00) scale(0.9530 1)">i</text>
<text transform="translate(1071.79 316.00) scale(1.0562 0.9300)">o</text>
<text transform="translate(1082.77 316.00) scale(1.1289 0.9300)">n</text>
<text transform="translate(1095.38 315.67) scale(0.9480 0.9437)">]</text>
<text transform="translate(1102.67 316.96) scale(1.1757 0.9756)">&gt;</text>
<text transform="translate(1123.91 316.00) scale(0.8953 1)">‡</text>
<text transform="translate(1132.73 316.00) scale(1.1882 0.9300)">e</text>
<text transform="translate(1143.71 316.00) scale(1.2129 0.9300)">a</text>
<text transform="translate(1155.52 316.04) scale(0.9097 0.8293)">:</text>
<text transform="translate(1161.12 316.00) scale(1.0642 0.9300)">m</text>
<text transform="translate(1178.74 316.00) scale(1.2129 0.9300)">a</text>
<text transform="translate(1189.84 316.00) scale(1.1289 0.9300)">n</text>
<text transform="translate(1202.17 316.00) scale(0.9530 1)">i</text>
<text transform="translate(1207.84 316.00) scale(1.1546 0.9600)">f</text>
<text transform="translate(1215.55 316.04) scale(0.9097 0.8293)">:</text>
<text transform="translate(1221.40 316.00) scale(1.0483 1)">P</text>
<text transform="translate(1234.15 316.00) scale(1.1007 0.9300)">u</text>
<text transform="translate(1246.44 316.00) scale(1.0776 0.9600)">b</text>
<text transform="translate(1258.21 316.00) scale(0.9530 0.9600)">l</text>
<text transform="translate(1264.21 316.00) scale(0.9530 1)">i</text>
<text transform="translate(1270.09 316.00) scale(1.1489 0.9300)">s</text>
<text transform="translate(1280.18 316.00) scale(1.1007 0.9600)">h</text>
<text transform="translate(1291.83 316.00) scale(1.1882 0.9300)">e</text>
<text transform="translate(1303.16 316.00) scale(1.2600 0.9300)">r</text>
<text transform="translate(1312.19 318.30) scale(0.8642 0.8000)">_</text>
<text transform="translate(1321.22 316.00) scale(1.0357 1)">N</text>
<text transform="translate(1336.83 316.00) scale(1.2129 0.9300)">a</text>
<text transform="translate(1348.23 316.00) scale(1.0642 0.9300)">m</text>
<text transform="translate(1365.87 316.00) scale(1.1882 0.9300)">e</text>
<text transform="translate(1377.07 316.00) scale(0.8953 1)">‡</text>
<text transform="translate(1385.98 316.00) scale(1.0562 0.9300)">o</text>
<text transform="translate(1397.29 316.00) scale(0.9530 1)">i</text>
<text transform="translate(1403.67 316.04) scale(0.9097 0.8293)">:</text>
<text transform="translate(1409.28 316.00) scale(1.0507 1)">4</text>
<text transform="translate(1421.50 316.00) scale(1.0562 1)">8</text>
<text transform="translate(1433.27 316.00) scale(1.0292 1)">7</text>
<text transform="translate(1445.56 316.00) scale(1.0006 1)">2</text>
<text transform="translate(1457.12 316.00) scale(0.8953 1)">‡</text>
<text transform="translate(1466.03 316.00) scale(1.0562 0.9300)">o</text>
<text transform="translate(1477.34 316.00) scale(0.9530 1)">i</text>
<text transform="translate(1483.72 316.04) scale(0.9097 0.8293)">:</text>
<text transform="translate(1489.71 316.00) scale(0.9339 1)">1</text>
<text transform="translate(1501.27 316.00) scale(1.0595 1)">5</text>
<text transform="translate(1513.28 316.00) scale(1.0595 1)">5</text>
<text transform="translate(1525.73 316.00) scale(0.9339 1)">1</text>
<text transform="translate(1537.17 316.00) scale(0.8953 1)">‡</text>
<text transform="translate(1546.74 316.00) scale(0.9339 1)">1</text>
<text transform="translate(1558.63 316.00) scale(1.0006 1)">2</text>
<text transform="translate(1571.06 316.00) scale(1.3008 0.9818)">#</text>
<text transform="translate(1586.34 316.00) scale(1.0578 1)">3</text>
<text transform="translate(1598.63 316.00) scale(1.0547 1)">9</text>
<text transform="translate(1610.78 316.00) scale(0.9339 1)">1</text>
<text transform="translate(1622.67 316.00) scale(1.0006 1)">2</text>
<text transform="translate(1634.37 316.00) scale(1.0578 1)">3</text>
<text transform="translate(1646.42 316.00) scale(1.0507 1)">4</text>
<text transform="translate(1658.39 316.00) scale(1.0578 1)">3</text>
<text transform="translate(857.08 430.67) scale(0.9477 0.9437)">[</text>
<text transform="translate(864.62 431.00) scale(0.9337 1)">1</text>
<text transform="translate(876.51 431.00) scale(1.0004 1)">2</text>
<text transform="translate(893.87 431.00) scale(1.1879 0.9300)">e</text>
<text transform="translate(904.86 431.00) scale(1.2126 0.9300)">a</text>
<text transform="translate(916.66 431.04) scale(0.9094 0.8293)">:</text>
<text transform="translate(922.26 431.00) scale(1.0639 0.9300)">m</text>
<text transform="translate(939.87 431.00) scale(1.2126 0.9300)">a</text>
<text transform="translate(950.97 431.00) scale(1.1286 0.9300)">n</text>
<text transform="translate(963.30 431.00) scale(0.9527 1)">i</text>
<text transform="translate(968.96 431.00) scale(1.1543 0.9600)">f</text>
<text transform="translate(976.68 431.04) scale(0.9094 0.8293)">:</text>
<text transform="translate(982.52 431.00) scale(1.0480 1)">P</text>
<text transform="translate(995.28 431.00) scale(1.1004 0.9300)">u</text>
<text transform="translate(1007.55 431.00) scale(1.0773 0.9600)">b</text>
<text transform="translate(1019.32 431.00) scale(0.9527 0.9600)">l</text>
<text transform="translate(1025.32 431.00) scale(0.9527 1)">i</text>
<text transform="translate(1030.99 431.00) scale(1.0942 0.9300)">c</text>
<text transform="translate(1040.91 431.00) scale(1.2126 0.9300)">a</text>
<text transform="translate(1052.25 431.00) scale(1.2732 1)">t</text>
<text transform="translate(1060.34 431.00) scale(0.9527 1)">i</text>
<text transform="translate(1066.03 431.00) scale(1.0559 0.9300)">o</text>
<text transform="translate(1077.02 431.00) scale(1.1286 0.9300)">n</text>
<text transform="translate(1089.62 430.67) scale(0.9477 0.9437)">]</text>
<text transform="translate(1096.91 431.96) scale(1.1754 0.9756)">&gt;</text>
<text transform="translate(1118.15 431.00) scale(0.8951 1)">‡</text>
<text transform="translate(1126.96 431.00) scale(1.1879 0.9300)">e</text>
<text transform="translate(1137.94 431.00) scale(1.2126 0.9300)">a</text>
<text transform="translate(1149.74 431.04) scale(0.9094 0.8293)">:</text>
<text transform="translate(1155.34 431.00) scale(1.0639 0.9300)">m</text>
<text transform="translate(1172.96 431.00) scale(1.2126 0.9300)">a</text>
<text transform="translate(1184.06 431.00) scale(1.1286 0.9300)">n</text>
<text transform="translate(1196.39 431.00) scale(0.9527 1)">i</text>
<text transform="translate(1202.05 431.00) scale(1.1543 0.9600)">f</text>
<text transform="translate(1209.77 431.04) scale(0.9094 0.8293)">:</text>
<text transform="translate(1215.61 431.00) scale(1.0480 1)">P</text>
<text transform="translate(1228.36 431.00) scale(1.1004 0.9300)">u</text>
<text transform="translate(1240.64 431.00) scale(1.0773 0.9600)">b</text>
<text transform="translate(1252.41 431.00) scale(0.9527 0.9600)">l</text>
<text transform="translate(1258.41 431.00) scale(0.9527 1)">i</text>
<text transform="translate(1264.08 431.00) scale(1.0942 0.9300)">c</text>
<text transform="translate(1273.99 431.00) scale(1.2126 0.9300)">a</text>
<text transform="translate(1285.34 431.00) scale(1.2732 1)">t</text>
<text transform="translate(1293.42 431.00) scale(0.9527 1)">i</text>
<text transform="translate(1299.12 431.00) scale(1.0559 0.9300)">o</text>
<text transform="translate(1310.10 431.00) scale(1.1286 0.9300)">n</text>
<text transform="translate(1322.39 433.30) scale(0.8640 0.8000)">_</text>
<text transform="translate(1331.65 431.00) scale(1.0480 1)">P</text>
<text transform="translate(1344.44 431.00) scale(0.9527 0.9600)">l</text>
<text transform="translate(1350.02 431.00) scale(1.2126 0.9300)">a</text>
<text transform="translate(1361.11 431.00) scale(1.0942 0.9300)">c</text>
<text transform="translate(1371.05 431.00) scale(1.1879 0.9300)">e</text>
<text transform="translate(1382.25 431.00) scale(0.8951 1)">‡</text>
<text transform="translate(1391.15 431.00) scale(1.0559 0.9300)">o</text>
<text transform="translate(1402.46 431.00) scale(0.9527 1)">i</text>
<text transform="translate(1408.84 431.04) scale(0.9094 0.8293)">:</text>
<text transform="translate(1414.44 431.00) scale(1.0504 1)">4</text>
<text transform="translate(1426.67 431.00) scale(1.0559 1)">8</text>
<text transform="translate(1438.43 431.00) scale(1.0290 1)">7</text>
<text transform="translate(1450.72 431.00) scale(1.0004 1)">2</text>
<text transform="translate(1462.27 431.00) scale(0.8951 1)">‡</text>
<text transform="translate(1471.18 431.00) scale(1.0559 0.9300)">o</text>
<text transform="translate(1482.49 431.00) scale(0.9527 1)">i</text>
<text transform="translate(1488.87 431.04) scale(0.9094 0.8293)">:</text>
<text transform="translate(1494.43 431.00) scale(1.0575 1)">3</text>
<text transform="translate(1506.45 431.00) scale(1.0290 1)">7</text>
<text transform="translate(1518.70 431.00) scale(1.0559 1)">8</text>
<text transform="translate(1530.44 431.00) scale(1.0575 1)">3</text>
<text transform="translate(1542.30 431.00) scale(0.8951 1)">‡</text>
<text transform="translate(1551.87 431.00) scale(0.9337 1)">1</text>
<text transform="translate(1563.76 431.00) scale(1.0004 1)">2</text>
<text transform="translate(1576.19 431.00) scale(1.3005 0.9818)">#</text>
<text transform="translate(1591.46 431.00) scale(1.0575 1)">3</text>
<text transform="translate(1603.75 431.00) scale(1.0544 1)">9</text>
<text transform="translate(1615.90 431.00) scale(0.9337 1)">1</text>
<text transform="translate(1627.78 431.00) scale(1.0004 1)">2</text>
<text transform="translate(1639.48 431.00) scale(1.0575 1)">3</text>
<text transform="translate(1651.53 431.00) scale(1.0504 1)">4</text>
<text transform="translate(1663.80 431.00) scale(1.0004 1)">2</text>
<text transform="translate(975.98 716.00) scale(1.2613 0.9300)">r</text>
<text transform="translate(984.77 716.00) scale(1.0573 0.9300)">o</text>
<text transform="translate(995.79 716.00) scale(1.0573 0.9300)">o</text>
<text transform="translate(1007.03 716.00) scale(1.2748 1)">t</text>
<text transform="translate(1015.50 716.04) scale(0.9106 0.8293)">:</text>
<text transform="translate(1027.12 716.00) scale(1.0517 1)">4</text>
<text transform="translate(1039.36 716.00) scale(1.0573 1)">8</text>
<text transform="translate(1051.14 716.00) scale(1.0303 1)">7</text>
<text transform="translate(1063.44 716.00) scale(1.0017 1)">2</text>
<text transform="translate(1080.91 716.00) scale(1.1301 0.9300)">n</text>
<text transform="translate(1092.95 716.00) scale(1.0573 0.9300)">o</text>
<text transform="translate(1103.91 716.00) scale(1.1334 0.9600)">d</text>
<text transform="translate(1115.89 716.00) scale(1.1895 0.9300)">e</text>
<text transform="translate(1127.19 716.00) scale(1.1500 0.9300)">s</text>
<text transform="translate(1143.00 716.00) scale(1.0956 0.9300)">c</text>
<text transform="translate(1153.05 716.00) scale(1.0573 0.9300)">o</text>
<text transform="translate(1164.34 716.00) scale(1.1018 0.9300)">u</text>
<text transform="translate(1176.07 716.00) scale(1.1301 0.9300)">n</text>
<text transform="translate(1188.33 716.00) scale(1.2748 1)">t</text>
<text transform="translate(1196.80 716.04) scale(0.9106 0.8293)">:</text>
<text transform="translate(1208.36 716.00) scale(1.0606 1)">5</text>
</svg></body></html>
